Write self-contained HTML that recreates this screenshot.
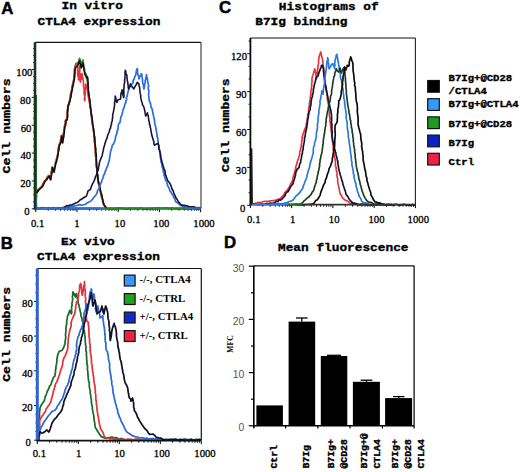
<!DOCTYPE html>
<html><head><meta charset="utf-8"><style>
html,body{margin:0;padding:0;background:#fff;}
body{width:520px;height:472px;overflow:hidden;font-family:"Liberation Sans",sans-serif;}
svg{display:block;}
</style></head><body>
<svg width="520" height="472" viewBox="0 0 520 472">
<rect x="0" y="0" width="520" height="472" fill="#fff"/>
<g id="A">
<text x="1.2" y="13.6" font-family="Liberation Sans" font-size="16.8" font-weight="bold" text-anchor="start" fill="#000" stroke="#000" stroke-width="0.5">A</text>
<text x="0" y="0" font-family="Liberation Mono" font-size="12.8" font-weight="bold" text-anchor="start" fill="#000" transform="translate(61.5 9.3) scale(1 0.88)" stroke="#000" stroke-width="0.4">In vitro</text>
<text x="0" y="0" font-family="Liberation Mono" font-size="12.8" font-weight="bold" text-anchor="start" fill="#000" transform="translate(37.5 24.6) scale(1 0.88)" stroke="#000" stroke-width="0.4">CTLA4 expression</text>
<line x1="35" y1="42.3" x2="201" y2="42.3" stroke="#111" stroke-width="1.2"/>
<line x1="201" y1="42.3" x2="201" y2="208.6" stroke="#333" stroke-width="1.1"/>
<line x1="31.8" y1="208.8" x2="35" y2="208.8" stroke="#111" stroke-width="1"/>
<line x1="33.2" y1="201.84" x2="35" y2="201.84" stroke="#111" stroke-width="1"/>
<line x1="33.2" y1="194.87" x2="35" y2="194.87" stroke="#111" stroke-width="1"/>
<line x1="33.2" y1="187.91" x2="35" y2="187.91" stroke="#111" stroke-width="1"/>
<line x1="31.8" y1="180.94" x2="35" y2="180.94" stroke="#111" stroke-width="1"/>
<line x1="33.2" y1="173.98" x2="35" y2="173.98" stroke="#111" stroke-width="1"/>
<line x1="33.2" y1="167.01" x2="35" y2="167.01" stroke="#111" stroke-width="1"/>
<line x1="33.2" y1="160.05" x2="35" y2="160.05" stroke="#111" stroke-width="1"/>
<line x1="31.8" y1="153.08" x2="35" y2="153.08" stroke="#111" stroke-width="1"/>
<line x1="33.2" y1="146.12" x2="35" y2="146.12" stroke="#111" stroke-width="1"/>
<line x1="33.2" y1="139.15" x2="35" y2="139.15" stroke="#111" stroke-width="1"/>
<line x1="33.2" y1="132.19" x2="35" y2="132.19" stroke="#111" stroke-width="1"/>
<line x1="31.8" y1="125.22" x2="35" y2="125.22" stroke="#111" stroke-width="1"/>
<line x1="33.2" y1="118.26" x2="35" y2="118.26" stroke="#111" stroke-width="1"/>
<line x1="33.2" y1="111.29" x2="35" y2="111.29" stroke="#111" stroke-width="1"/>
<line x1="33.2" y1="104.33" x2="35" y2="104.33" stroke="#111" stroke-width="1"/>
<line x1="31.8" y1="97.36" x2="35" y2="97.36" stroke="#111" stroke-width="1"/>
<line x1="33.2" y1="90.4" x2="35" y2="90.4" stroke="#111" stroke-width="1"/>
<line x1="33.2" y1="83.43" x2="35" y2="83.43" stroke="#111" stroke-width="1"/>
<line x1="33.2" y1="76.47" x2="35" y2="76.47" stroke="#111" stroke-width="1"/>
<line x1="31.8" y1="69.5" x2="35" y2="69.5" stroke="#111" stroke-width="1"/>
<line x1="33.2" y1="62.53" x2="35" y2="62.53" stroke="#111" stroke-width="1"/>
<line x1="33.2" y1="55.57" x2="35" y2="55.57" stroke="#111" stroke-width="1"/>
<line x1="33.2" y1="48.61" x2="35" y2="48.61" stroke="#111" stroke-width="1"/>
<text x="0" y="0" font-family="Liberation Serif" font-size="10.7" font-weight="normal" text-anchor="end" fill="#000" transform="translate(29.5 215.1) scale(1 1.04)" stroke="#000" stroke-width="0.3">0</text>
<text x="0" y="0" font-family="Liberation Serif" font-size="10.7" font-weight="normal" text-anchor="end" fill="#000" transform="translate(30.9 187.24) scale(1 1.04)" stroke="#000" stroke-width="0.3">20</text>
<text x="0" y="0" font-family="Liberation Serif" font-size="10.7" font-weight="normal" text-anchor="end" fill="#000" transform="translate(31.1 159.38) scale(1 1.04)" stroke="#000" stroke-width="0.3">40</text>
<text x="0" y="0" font-family="Liberation Serif" font-size="10.7" font-weight="normal" text-anchor="end" fill="#000" transform="translate(31.4 131.52) scale(1 1.04)" stroke="#000" stroke-width="0.3">60</text>
<text x="0" y="0" font-family="Liberation Serif" font-size="10.7" font-weight="normal" text-anchor="end" fill="#000" transform="translate(30.8 103.66) scale(1 1.04)" stroke="#000" stroke-width="0.3">80</text>
<text x="0" y="0" font-family="Liberation Serif" font-size="10.7" font-weight="normal" text-anchor="end" fill="#000" transform="translate(32.4 75.8) scale(1 1.04)" stroke="#000" stroke-width="0.3">100</text>
<line x1="35.8" y1="209.1" x2="35.8" y2="212.1" stroke="#000" stroke-width="1"/>
<line x1="48.2" y1="209.1" x2="48.2" y2="210.7" stroke="#000" stroke-width="1"/>
<line x1="55.46" y1="209.1" x2="55.46" y2="210.7" stroke="#000" stroke-width="1"/>
<line x1="60.6" y1="209.1" x2="60.6" y2="210.7" stroke="#000" stroke-width="1"/>
<line x1="64.6" y1="209.1" x2="64.6" y2="210.7" stroke="#000" stroke-width="1"/>
<line x1="67.86" y1="209.1" x2="67.86" y2="210.7" stroke="#000" stroke-width="1"/>
<line x1="70.62" y1="209.1" x2="70.62" y2="210.7" stroke="#000" stroke-width="1"/>
<line x1="73.01" y1="209.1" x2="73.01" y2="210.7" stroke="#000" stroke-width="1"/>
<line x1="75.11" y1="209.1" x2="75.11" y2="210.7" stroke="#000" stroke-width="1"/>
<line x1="77" y1="209.1" x2="77" y2="212.1" stroke="#000" stroke-width="1"/>
<line x1="89.4" y1="209.1" x2="89.4" y2="210.7" stroke="#000" stroke-width="1"/>
<line x1="96.66" y1="209.1" x2="96.66" y2="210.7" stroke="#000" stroke-width="1"/>
<line x1="101.8" y1="209.1" x2="101.8" y2="210.7" stroke="#000" stroke-width="1"/>
<line x1="105.8" y1="209.1" x2="105.8" y2="210.7" stroke="#000" stroke-width="1"/>
<line x1="109.06" y1="209.1" x2="109.06" y2="210.7" stroke="#000" stroke-width="1"/>
<line x1="111.82" y1="209.1" x2="111.82" y2="210.7" stroke="#000" stroke-width="1"/>
<line x1="114.21" y1="209.1" x2="114.21" y2="210.7" stroke="#000" stroke-width="1"/>
<line x1="116.31" y1="209.1" x2="116.31" y2="210.7" stroke="#000" stroke-width="1"/>
<line x1="118.2" y1="209.1" x2="118.2" y2="212.1" stroke="#000" stroke-width="1"/>
<line x1="130.6" y1="209.1" x2="130.6" y2="210.7" stroke="#000" stroke-width="1"/>
<line x1="137.86" y1="209.1" x2="137.86" y2="210.7" stroke="#000" stroke-width="1"/>
<line x1="143" y1="209.1" x2="143" y2="210.7" stroke="#000" stroke-width="1"/>
<line x1="147" y1="209.1" x2="147" y2="210.7" stroke="#000" stroke-width="1"/>
<line x1="150.26" y1="209.1" x2="150.26" y2="210.7" stroke="#000" stroke-width="1"/>
<line x1="153.02" y1="209.1" x2="153.02" y2="210.7" stroke="#000" stroke-width="1"/>
<line x1="155.41" y1="209.1" x2="155.41" y2="210.7" stroke="#000" stroke-width="1"/>
<line x1="157.51" y1="209.1" x2="157.51" y2="210.7" stroke="#000" stroke-width="1"/>
<line x1="159.4" y1="209.1" x2="159.4" y2="212.1" stroke="#000" stroke-width="1"/>
<line x1="171.8" y1="209.1" x2="171.8" y2="210.7" stroke="#000" stroke-width="1"/>
<line x1="179.06" y1="209.1" x2="179.06" y2="210.7" stroke="#000" stroke-width="1"/>
<line x1="184.2" y1="209.1" x2="184.2" y2="210.7" stroke="#000" stroke-width="1"/>
<line x1="188.2" y1="209.1" x2="188.2" y2="210.7" stroke="#000" stroke-width="1"/>
<line x1="191.46" y1="209.1" x2="191.46" y2="210.7" stroke="#000" stroke-width="1"/>
<line x1="194.22" y1="209.1" x2="194.22" y2="210.7" stroke="#000" stroke-width="1"/>
<line x1="196.61" y1="209.1" x2="196.61" y2="210.7" stroke="#000" stroke-width="1"/>
<line x1="198.71" y1="209.1" x2="198.71" y2="210.7" stroke="#000" stroke-width="1"/>
<line x1="200.6" y1="209.1" x2="200.6" y2="212.1" stroke="#000" stroke-width="1"/>
<text x="0" y="0" font-family="Liberation Serif" font-size="10.7" font-weight="normal" text-anchor="middle" fill="#000" transform="translate(37.6 226.6) scale(1 1.04)" stroke="#000" stroke-width="0.3">0.1</text>
<text x="0" y="0" font-family="Liberation Serif" font-size="10.7" font-weight="normal" text-anchor="middle" fill="#000" transform="translate(77 226.6) scale(1 1.04)" stroke="#000" stroke-width="0.3">1</text>
<text x="0" y="0" font-family="Liberation Serif" font-size="10.7" font-weight="normal" text-anchor="middle" fill="#000" transform="translate(119.9 226.6) scale(1 1.04)" stroke="#000" stroke-width="0.3">10</text>
<text x="0" y="0" font-family="Liberation Serif" font-size="10.7" font-weight="normal" text-anchor="middle" fill="#000" transform="translate(161.3 226.6) scale(1 1.04)" stroke="#000" stroke-width="0.3">100</text>
<text x="0" y="0" font-family="Liberation Serif" font-size="10.7" font-weight="normal" text-anchor="middle" fill="#000" transform="translate(204 226.6) scale(1 1.04)" stroke="#000" stroke-width="0.3">1000</text>
<text x="0" y="0" font-family="Liberation Mono" font-size="13.2" font-weight="bold" text-anchor="middle" fill="#000" transform="translate(10.4 125.9) rotate(-90) scale(1 0.78)" stroke="#000" stroke-width="0.4">Cell numbers</text>
<line x1="36.2" y1="209" x2="36.2" y2="95" stroke="#1f7a2a" stroke-width="1.6"/>
<path d="M36.2 209 L36.14 206.96 L36.39 205.24 L36.37 203.96 L36.13 202.51 L36.17 200.8 L36.24 198.76 L36.5 198.02 L36.6 196 L36.42 193.67 L36.7 192 L37.93 191.04 L39 189 L40.5 187.58 L41.9 186.4 L43.05 184.06 L43.85 182.55 L44.5 181 L46.5 179 L47.39 176.84 L48.7 175.6 L49.44 177.83 L50.4 179.3 L50.45 177.66 L50.97 175.66 L51.16 173.55 L51.11 171.98 L51.72 170.5 L51.75 168.95 L52.1 167.1 L52.64 168.39 L53.41 170.41 L53.8 171.7 L53.99 169.93 L54.5 168.43 L54.96 165.87 L55.45 163.8 L55.5 162.4 L56.02 161.01 L56.42 158.99 L57.2 157.3 L57.17 155.8 L57.84 153.99 L58.15 151.98 L58.29 150.61 L58.46 148.75 L58.86 147.63 L58.9 145.4 L59.73 143.6 L60.6 141.4 L60.6 139.71 L61.22 138.13 L61.4 135.6 L61.82 137.04 L61.78 139.2 L61.79 140.65 L62.3 142.4 L62.34 140.2 L62.52 139.24 L62.81 136.87 L63.21 135.87 L63.26 133.62 L63.79 132.4 L64 130.2 L64.47 128.94 L64.43 126.7 L64.77 125.56 L65.41 122.98 L65.22 121.38 L65.7 120 L66.9 119.4 L66.84 117.68 L67.15 115.72 L66.9 114.2 L67.22 112.68 L67.67 111.13 L67.51 109.34 L67.71 106.96 L67.7 105.8 L68.6 104.2 L69.26 102.84 L69.67 101.16 L69.81 98.98 L70.3 97.4 L70.38 95.86 L70.68 93.48 L71.09 91.89 L71.48 90.06 L71.9 88.9 L71.95 86.78 L72.36 85.34 L72.67 84.25 L73.3 82.1 L73.72 79.98 L74 78.7 L73.99 76.83 L74.2 74.88 L74.64 74.23 L74.55 71.94 L74.47 69.79 L74.76 68.3 L75 66.9 L75.7 64.3 L77.9 63.5 L78.66 61.39 L78.75 60.64 L79.6 58.4 L80.04 59.68 L80.48 61.23 L80.89 64.07 L81.3 65.2 L82.08 63.74 L82.29 61.64 L83 60.1 L83.04 62.11 L83.51 63.81 L83.63 64.82 L84.16 67.42 L84.43 68.9 L84.65 70.5 L84.7 71.9 L86 74 L86.44 75.52 L87.2 77 L87.23 78.13 L87.15 80.14 L87.4 82.33 L87.93 83.74 L88.03 86.09 L88.16 87.04 L88 88.9 L88.04 90.27 L88.24 91.95 L88.71 94.48 L89.05 95.68 L89.15 97.76 L89.03 99.29 L89.73 101.14 L89.7 102.5 L90.06 104.16 L89.93 106.22 L90.24 107.92 L90.83 109.13 L90.7 111.47 L91.11 112.23 L90.96 113.89 L91.4 116 L91.89 118.07 L91.67 119.79 L92.42 121.29 L92.28 122.86 L92.39 123.92 L93.14 126.38 L93.1 127.9 L93.34 130.2 L93.51 131.9 L93.97 132.88 L94 135 L94.02 136.42 L94.18 138.44 L94.36 139.9 L94.45 142.16 L94.75 143.28 L95 145 L95.18 147.21 L95.2 148.95 L95.38 150.21 L95.51 151.32 L95.59 153.24 L95.45 155.71 L95.68 157.04 L96 158.8 L96.25 160.47 L96.12 162.02 L96.38 163.94 L96.22 165.27 L96.42 166.53 L96.85 168.41 L96.8 170 L97.02 172.11 L97.41 173.53 L97.41 175.41 L97.53 177.43 L97.7 179 L98.04 180.75 L98.43 182.96 L98.93 184.59 L99.45 185.57 L99.59 188.1 L100.13 188.85 L100.3 191 L100.5 192.68 L100.89 194.19 L101.32 196.45 L102 198 L102.57 200.13 L102.59 201.56 L103.3 202.52 L103.6 204.6 L105.13 206.86 L106.2 208 L107.93 208.84 L110 208.6 L111.56 208.58 L113.54 209 L114.67 208.52 L116.51 208.41 L117.94 208.38 L119.88 208.02 L121.41 208.53 L122.71 208.4 L124.7 208.61 L125.99 209.18 L128.05 209.17 L129.26 208.32 L130.85 208.93 L132.61 208.16 L134.33 209.09 L136.19 208.31 L137.41 209.1 L139.29 208.84 L140.63 208.07 L142.61 208.51 L143.87 209.13 L145.83 208.96 L147.13 209.03 L148.74 209.04 L150.6 208.41 L152.28 209.11 L153.74 208.16 L155.52 208.29 L156.89 208.19 L158.48 208.24 L160.26 208.37 L162.16 208.35 L163.63 208.21 L165.16 208.02 L166.73 208.02 L168.64 208.66 L169.94 208.57 L172.01 208.13 L173.57 208.52 L175 209 L176.56 208.61 L178.36 209.18 L179.78 209 L181.62 208.76 L183.07 208.42 L184.48 208.16 L186.12 208.89 L187.85 208.2 L189.38 209.01 L191.47 208.8 L192.74 208.29 L194.38 208.55 L195.92 208.53 L197.61 209.15 L199.66 208.66 L201 208.6" fill="none" stroke="#238a2b" stroke-width="1.74" stroke-linejoin="round" />
<path d="M36.7 192 L37.7 191.06 L39 189 L40.34 187.53 L41.9 186.4 L42.47 184.46 L43.62 182.8 L44.5 181 L46.5 179 L47.42 177.31 L48.7 175.6 L49.25 177.17 L50.4 179.3 L50.4 177.44 L50.61 175.24 L51.01 173.75 L51.42 172.36 L51.76 170.77 L51.99 169.3 L52.1 167.1 L52.6 168.42 L53.52 169.75 L53.8 171.7 L54.27 170.01 L54.21 168.38 L55.06 166.27 L55.3 164.63 L55.5 162.4 L55.85 160.73 L56.64 159.4 L57.2 157.3 L57.63 155.99 L57.74 154.37 L58.04 152.43 L58.01 149.94 L58.19 148.63 L58.42 147.5 L58.9 145.4 L59.79 143.55 L60.6 141.4 L60.94 139.68 L61.13 136.94 L61.4 135.6 L61.8 137.6 L61.85 139.04 L62.17 140.18 L62.3 142.4 L62.68 140.36 L62.53 138.63 L63.17 136.82 L63.42 136 L63.51 133.54 L63.74 132.16 L64 130.2 L64.44 128.64 L64.65 126.29 L64.64 124.8 L65.28 123.17 L65.46 121.11 L65.7 120 L66.9 119.4 L66.74 117.42 L67.2 116.23 L67.31 114.05 L67.31 112.56 L67.38 110.44 L67.74 108.84 L67.89 108.02 L67.7 105.8 L68.6 104.2 L68.74 102.45 L69.64 101.36 L69.84 98.82 L70.3 97.4 L70.45 96.23 L70.77 94.1 L71.05 92.33 L71.85 90.16 L71.9 88.9 L72.44 87.21 L72.83 85.74 L72.79 84.28 L73.3 82.1 L73.64 79.83 L74 78.7 L73.83 77.02 L74.22 75.11 L74.16 73.49 L74.5 72 L74.63 70.81 L74.68 69.1 L75.42 66.74 L75.72 65.86 L75.7 64 L77 63 L77.39 64.45 L77.22 66.27 L77.75 68.21 L77.52 69.71 L77.62 70.96 L77.66 73.6 L77.92 75.42 L78.05 76.32 L78.36 77.93 L78.5 80 L78.55 78.8 L78.98 76.87 L78.95 75.25 L79.26 73.06 L79.26 70.71 L79.39 69.44 L79.53 67.92 L79.5 66 L79.46 67.07 L79.94 68.77 L79.75 70.64 L79.74 72.73 L80.24 73.76 L80.13 75.42 L80.16 77.14 L80.02 78.47 L80.13 80.98 L80.4 82.1 L80.74 80.06 L81.32 79.3 L81.39 76.57 L81.58 74.81 L82.1 73.6 L82.28 74.71 L82.49 76.51 L82.97 78.86 L83.2 80 L83.47 81.5 L83.38 83.23 L83.47 84.61 L83.4 86.13 L84.06 87.55 L83.89 89.76 L84.23 90.86 L83.99 92.5 L84.18 94.34 L84.63 96.42 L84.69 97.03 L84.3 99.45 L84.7 100.8 L85.02 99.09 L84.91 96.84 L84.87 96.27 L85.22 94.51 L85.38 92.1 L84.95 90.31 L85.27 89.26 L85.6 87.63 L85.51 86 L85.5 84 L87 86 L87.17 87.73 L87.12 89.67 L87.44 91.5 L87.89 92.43 L87.78 94.04 L88.2 96 L88.58 97.84 L88.57 98.68 L89.11 100.9 L89.33 102.07 L89.7 104 L90 105.13 L90.07 107.38 L90.7 109.32 L90.9 110.83 L90.76 112.27 L91.43 114.53 L91.4 116 L91.53 117.13 L91.88 119.61 L92.08 120.81 L92.47 123.31 L92.45 123.94 L92.76 126.1 L93.1 127.9 L93.43 129.31 L93.73 131.74 L93.78 132.87 L94 135 L94.45 136.44 L94.53 138.01 L94.33 140.31 L94.54 142.21 L94.83 142.96 L95 145 L94.96 146.63 L95.35 148.99 L95.16 150.05 L95.33 152.47 L95.41 153.09 L95.49 155.22 L96.11 157.54 L96 158.8 L96.25 161 L96.49 161.8 L96.15 164.12 L96.6 164.64 L96.67 166.65 L96.61 168.2 L96.8 170 L96.78 171.2 L97.03 173.42 L97.61 174.95 L97.8 176.85 L97.7 179 L97.99 181.1 L98.64 182.35 L98.54 184.11 L99.11 186.36 L99.37 187.41 L100.17 188.72 L100.3 191 L100.67 193.12 L101.31 193.95 L101.3 195.73 L102 198 L102.65 199.36 L102.95 201.78 L103.1 202.68 L103.6 204.6 L105.17 206.44 L106.2 208" fill="none" stroke="#e8323c" stroke-width="1.59" stroke-linejoin="round" />
<path d="M36.7 193 L37.23 191.72 L38 190 L37.1 192.5 L38.16 190.78 L39.4 189.5 L40.6 188.46 L42.3 186.9 L43.37 185.23 L44.25 182.82 L44.9 181.5 L46.9 179.5 L47.87 177.78 L49.1 176.1 L50.18 178.4 L50.8 179.8 L50.99 177.81 L51.25 176.31 L51.74 174.25 L51.92 173.07 L52.18 171.36 L52.31 169.17 L52.5 167.6 L52.98 169 L53.77 170.25 L54.2 172.2 L54.39 170.59 L54.75 168.04 L54.99 166.67 L55.47 165.24 L55.9 162.9 L56.66 161.69 L56.92 159.08 L57.6 157.8 L57.64 156.1 L58.19 154.35 L58.2 152.62 L58.63 151.17 L58.94 149.65 L59.14 147.22 L59.3 145.9 L60.32 143.69 L61 141.9 L61.3 139.84 L61.65 137.73 L61.8 136.1 L61.9 137.55 L62.08 139.88 L62.51 141.03 L62.7 142.9 L62.89 141.65 L63.19 139.15 L63.58 137.82 L63.92 135.53 L63.9 134.5 L64.33 132.86 L64.4 130.7 L64.45 128.79 L64.78 126.99 L65.49 125.68 L65.75 123.77 L66 122.15 L66.1 120.5 L67.3 119.9 L67.28 118.48 L67.72 116.11 L67.65 114.92 L67.56 112.97 L67.62 111.1 L67.78 109.8 L68.08 107.7 L68.1 106.3 L69 104.7 L69.18 102.83 L69.94 100.99 L70.18 99.3 L70.7 97.9 L71.17 96.25 L71.12 94.1 L71.61 92.85 L72.05 90.69 L72.3 89.4 L72.48 87.9 L72.95 85.78 L73.25 84.75 L73.7 82.6 L73.96 80.97 L74.4 79.2 L74.46 77.52 L74.84 76.5 L74.72 74.1 L75.03 72.5 L74.8 71.6 L75.13 69.92 L75.3 68 L77.5 66 L78.15 64.72 L78.88 62.33 L79.6 61 L79.78 62.8 L80.52 64.91 L80.67 66.37 L81.3 68 L81.8 66.34 L82.26 64.45 L83 63 L83.29 65.26 L83.37 66.66 L84 68.97 L83.98 69.96 L84.64 72.64 L84.7 74 L85.59 75.55 L86.5 78 L87.5 77 L87.83 78.59 L87.93 80.52 L88.01 81.76 L88.1 83.52 L88.02 85.85 L88.35 86.88 L88.3 88.9 L88.37 90.5 L88.73 92.18 L88.75 93.75 L89.26 96.1 L89.13 97.46 L89.7 98.64 L89.96 100.42 L90 102.5 L90.26 104.24 L90.49 105.68 L90.6 107.65 L90.81 109.41 L91.04 110.88 L91.04 112.74 L91.48 114.05 L91.7 116 L92.07 117.98 L92.16 119.08 L92.42 120.71 L92.49 122.73 L92.71 124.44 L93.16 125.74 L93.4 127.9 L93.69 129.26 L93.97 131.73 L94.08 132.78 L94.3 135 L94.47 136.54 L94.86 137.97 L94.98 140.5 L95.08 141.98 L94.98 143.82 L95.3 145 L95.42 147.18 L95.76 148.12 L95.82 150.61 L95.58 151.75 L96.05 153.28 L96.25 155.12 L96.33 156.72 L96.3 158.8 L96.42 160.82 L96.38 161.76 L96.65 163.42 L96.53 164.88 L96.7 167.24 L97.08 168.8 L97.1 170 L97.11 172.08 L97.27 173.63 L97.71 175.26 L98.01 177.26 L98 179 L98.41 181.1 L98.55 182.92 L99.18 184.04 L99.63 185.62 L100.1 187.65 L100.16 189.55 L100.6 191 L101 192.43 L101.57 194.05 L102.03 196 L102.3 198 L102.77 200.13 L103.14 201.46 L103.41 202.45 L103.9 204.6 L104.97 205.95 L106.5 208" fill="none" stroke="#111" stroke-width="1.59" stroke-linejoin="round" />
<path d="M36 208.3 L37.68 208.19 L39.21 208.81 L40.54 207.86 L42.51 207.55 L43.65 208 L45.32 207.98 L47.01 208.28 L48.86 207.73 L50.49 208.08 L51.74 208.71 L53.42 207.59 L54.92 208.25 L57.06 208.44 L58.33 207.69 L60 208 L61.4 207.94 L63.52 207.27 L65.32 207.14 L67.27 207.29 L68.52 207.26 L70.12 206.48 L72.11 205.81 L73.61 206.31 L75.32 205.73 L77.4 205.4 L79.61 204.67 L80.99 205.1 L83.1 204.92 L85 204.5 L86.99 203.04 L88.4 202.22 L90.3 201.5 L91.08 200.73 L92.7 199.17 L93.25 198.03 L94.87 196.18 L95.97 194.85 L96.9 193.6 L97.28 191.53 L97.86 189.93 L98.5 189.41 L99.32 188.03 L99.91 185.7 L100.37 184.42 L100.9 183 L101.67 181.52 L101.88 180.17 L102.94 178.06 L103.45 176.26 L103.59 175.06 L104.5 174.54 L104.9 172.4 L105.63 170.64 L106.28 169.13 L106.39 168.43 L107.22 166.61 L107.8 165.5 L108.22 163.79 L108.8 161.8 L109.28 160.65 L109.43 158.81 L109.86 156.58 L109.95 155.37 L110.19 154.13 L110.58 151.24 L110.89 150.85 L111.5 148.6 L112.06 146.57 L112.5 144.89 L113.5 144 L114.3 142.19 L114.97 140.33 L115.5 138 L115.63 136.36 L116.27 134.91 L117.02 133.25 L116.93 131.45 L117.96 129.79 L118.1 127.4 L118.32 125.33 L118.83 123.42 L119.84 122.85 L120.19 121.21 L120.69 118.79 L120.82 116.86 L121.78 115.35 L122.1 114.1 L122.61 111.96 L123.03 109.69 L124 108 L124.35 106.53 L124.91 104.2 L125.82 102.68 L126 100.9 L126.63 99.37 L126.44 97.38 L127.11 96.18 L127.44 94.39 L127.96 92 L128.57 90.13 L128.7 89 L130.06 86.84 L130.62 85.18 L132.1 83.9 L132.96 82.87 L133.11 80.49 L134.13 79.22 L134.6 77.09 L135.5 75.4 L135.82 74.16 L136.18 72.62 L136.62 69.9 L137.2 68.6 L137.62 70.3 L137.49 72.19 L137.76 74.1 L138.47 75.8 L138.71 76.9 L138.9 78.8 L139.66 76.95 L140.84 74.82 L141.4 73.7 L141.96 74.74 L141.77 76.77 L142.55 78.8 L142.47 81.04 L142.66 82.15 L143.16 84.26 L143.6 85.8 L143.61 87.06 L144 89 L144.04 87.88 L144.67 86.14 L144.6 84.11 L145.3 82.71 L145.13 80.95 L145.94 79.03 L145.73 77.52 L146.36 76.68 L146.5 74.6 L146.6 75.98 L147 78.08 L147.54 79.71 L147.74 81.6 L148.2 83.9 L148.63 85.92 L148.12 87.95 L148.22 88.84 L148.94 91.11 L148.86 92.31 L148.59 94.29 L148.62 95.39 L148.92 96.85 L149.1 99.2 L149.52 101.29 L150.21 102.57 L150.65 104.21 L150.79 106.09 L151.46 107.97 L152.3 109.22 L152.5 111 L152.88 113.05 L153.1 114.02 L153.65 116.63 L154.01 118.08 L154.4 119.75 L154.58 121.14 L154.68 123.08 L154.86 124.49 L155.67 126.6 L155.8 128 L156.19 129.35 L156.35 131.34 L156.79 132.97 L157.12 135.4 L157.08 136.72 L157.79 138.04 L157.89 140.56 L158.2 141.6 L158.13 143.33 L158.47 145.34 L159.27 146.65 L158.94 148.4 L159.5 150.27 L159.74 151.83 L160.21 153.34 L160.17 155.61 L160.29 156.91 L160.67 158.7 L161 160 L161.1 162.34 L161.62 162.7 L161.92 164.84 L162.1 166.53 L162.74 168.58 L163.06 169.63 L163.33 171.96 L164.19 173.32 L164.04 175.36 L164.6 176.6 L165.15 177.84 L165.58 180.28 L166.68 181.72 L167.07 183.26 L167.52 185.47 L168.23 186.66 L169.18 188.55 L169.56 189.47 L170.2 191.4 L171.15 192.45 L172.26 194.34 L173.19 195.79 L173.77 197.34 L174.72 198.82 L175.34 201.14 L176.6 202.4 L177.82 202.97 L179.21 204.22 L180.67 205.37 L182.1 206.1 L183.82 206.14 L185.63 207.07 L186.63 207.27 L188.83 207.45 L189.91 207.75 L191.87 206.85 L193.05 208.39 L195 208 L197.11 207.65 L198.72 207.5 L201 208" fill="none" stroke="#2f6fd6" stroke-width="1.74" stroke-linejoin="round" />
<line x1="36.4" y1="209" x2="36.4" y2="200" stroke="#2f6fd6" stroke-width="1.4"/>
<line x1="36" y1="208.6" x2="100" y2="208.6" stroke="#2f6fd6" stroke-width="1.6"/>
<path d="M63.8 207 L65.19 206.83 L66.81 205.58 L68.69 205.85 L70 205 L71.7 204.77 L73.87 203.94 L75.7 202.9 L77.23 202.41 L78.74 201.37 L80 200 L81.82 198.98 L84 197.5 L86.3 196.2 L86.89 194.76 L87.4 193.19 L88 191 L90.3 189.6 L91 187.77 L91.47 186.07 L92.3 184.42 L92.95 182.97 L93.63 181.85 L94.3 180.3 L94.88 179.22 L95.12 177.68 L95.95 175.83 L96.63 174.65 L97.01 172.63 L97.92 170.7 L98.2 169.7 L98.56 168.28 L98.48 166.67 L99.15 165.48 L99.22 163.96 L99.6 161.8 L100.26 160.13 L101.14 157.94 L101.68 157 L102.2 155.2 L102.49 153.93 L102.89 151.77 L103.37 150.42 L103.57 148.32 L104.08 146.76 L104.71 144.75 L104.9 143.3 L105.65 141.67 L106.02 140 L106.58 139.33 L107.22 137.59 L107.58 135.51 L108.12 134.32 L108.8 132.7 L109.42 131.44 L109.6 129.77 L110.65 127.95 L110.69 126.06 L111.5 124.7 L111.42 122.56 L112.19 121.3 L112.24 119.75 L112.61 117.77 L112.65 116.02 L112.8 114.1 L113.38 112.18 L113.84 109.69 L114.2 108 L114.44 106.24 L114.64 104.09 L114.44 102.3 L114.94 101.64 L115.01 99.27 L115.25 98.06 L115.2 96 L115.66 97.33 L115.93 99.16 L116.37 100.79 L116.9 102.5 L118.1 99.6 L120.3 99.2 L120.73 97.84 L120.71 95.52 L121.04 93.1 L121.85 91.77 L122 89.8 L122.65 91.66 L122.51 93.51 L123.26 96.1 L123.6 97.5 L123.99 95.87 L123.75 93.82 L123.99 92.35 L123.79 90.52 L123.8 89.72 L123.97 88.46 L124.05 86.74 L124.18 84.12 L124.63 82.79 L124.74 81.12 L124.43 80.23 L124.93 78.73 L125.04 76.2 L125.08 75.35 L125.08 74.02 L125.05 72.46 L125.3 70.3 L125.86 71.39 L125.86 73.83 L126.77 74.82 L127 77 L127.13 78.99 L127.29 80.86 L127.72 81.61 L127.89 83.95 L128.18 85.78 L128.24 87.64 L128.7 89 L129.18 87.47 L129.91 85.5 L130.4 83.9 L131.46 85.94 L132.93 87.64 L133.8 89 L134.69 87.05 L135.24 86.17 L136.47 84.29 L137.2 82.2 L138.9 83.9 L139.05 85.72 L139.69 87.68 L139.71 88.74 L139.86 91.13 L140.08 92.57 L140.46 94.52 L140.83 95.47 L140.6 97.14 L141.1 99.21 L141.4 100.8 L142.24 102.96 L142.43 104.6 L143.54 106.34 L144 107.6 L144.38 109.01 L144.89 111.33 L145.13 113.14 L145.27 113.82 L145.7 116 L146.58 114.71 L147.4 112.7 L147.53 114.57 L148.28 115.53 L148.39 117.63 L148.62 118.64 L148.8 120.86 L149.43 122.09 L149.32 124.08 L150.04 124.96 L150.23 127.33 L150.72 128.45 L150.8 130 L151.2 131.81 L151.44 133.03 L151.84 135.34 L152.36 136.88 L152.8 138.52 L153.06 139.65 L153.98 141.75 L153.85 143.76 L154.5 145.3 L156.52 143.94 L158.2 143.4 L158.57 144.86 L158.83 146.11 L158.85 148.92 L159.66 149.96 L159.8 151.34 L160.23 153.18 L160.65 155.23 L160.88 157.11 L161 158.2 L161.39 159.49 L161.9 161.5 L162.37 163.18 L163.19 166 L163.7 167.4 L164.14 169.55 L164.87 170.1 L165.15 172.11 L165.32 174.4 L165.87 175.54 L166.56 177.62 L167.04 178.56 L167.4 180.3 L168.77 181.74 L170.2 184 L171.08 186.12 L171.23 186.51 L171.85 188.42 L172.84 190.62 L173.4 191.12 L173.8 193.2 L174.91 195.28 L175.75 197.45 L176.6 198.7 L177.26 199.67 L178.6 202.03 L179.48 202.66 L180.3 204.3 L182.19 205.15 L183.74 205.17 L185.67 205.47 L187.65 206.06 L189.5 207 L191.09 206.74 L193.11 206.75 L194.88 207.13 L196.22 208.18 L198.08 208.35 L200 208" fill="none" stroke="#14143a" stroke-width="1.59" stroke-linejoin="round" />
<line x1="35" y1="42.3" x2="35" y2="209.6" stroke="#1d3320" stroke-width="2.6"/>
<line x1="34" y1="208.6" x2="201" y2="208.6" stroke="#2a2a2a" stroke-width="2.0"/>
<line x1="36.5" y1="208.4" x2="104" y2="208.4" stroke="#2f6fd6" stroke-width="1.7"/>
<line x1="104" y1="208.4" x2="200.5" y2="208.4" stroke="#238a2b" stroke-width="1.7"/>
<line x1="185" y1="208.2" x2="200.5" y2="208.2" stroke="#2f6fd6" stroke-width="1.2"/>
</g>
<g id="B">
<text x="0.8" y="248.8" font-family="Liberation Sans" font-size="16.8" font-weight="bold" text-anchor="start" fill="#000" stroke="#000" stroke-width="0.5">B</text>
<text x="0" y="0" font-family="Liberation Mono" font-size="12.8" font-weight="bold" text-anchor="start" fill="#000" transform="translate(61 244.6) scale(1 0.88)" stroke="#000" stroke-width="0.4">Ex vivo</text>
<text x="0" y="0" font-family="Liberation Mono" font-size="12.8" font-weight="bold" text-anchor="start" fill="#000" transform="translate(37 259.8) scale(1 0.88)" stroke="#000" stroke-width="0.4">CTLA4 expression</text>
<line x1="37.3" y1="268.5" x2="201.3" y2="268.5" stroke="#111" stroke-width="1.2"/>
<line x1="201.3" y1="268.5" x2="201.3" y2="440.6" stroke="#111" stroke-width="1.2"/>
<line x1="34.1" y1="440.2" x2="37.3" y2="440.2" stroke="#111" stroke-width="1"/>
<line x1="35.5" y1="431.52" x2="37.3" y2="431.52" stroke="#111" stroke-width="1"/>
<line x1="35.5" y1="422.85" x2="37.3" y2="422.85" stroke="#111" stroke-width="1"/>
<line x1="35.5" y1="414.18" x2="37.3" y2="414.18" stroke="#111" stroke-width="1"/>
<line x1="34.1" y1="405.5" x2="37.3" y2="405.5" stroke="#111" stroke-width="1"/>
<line x1="35.5" y1="396.82" x2="37.3" y2="396.82" stroke="#111" stroke-width="1"/>
<line x1="35.5" y1="388.15" x2="37.3" y2="388.15" stroke="#111" stroke-width="1"/>
<line x1="35.5" y1="379.47" x2="37.3" y2="379.47" stroke="#111" stroke-width="1"/>
<line x1="34.1" y1="370.8" x2="37.3" y2="370.8" stroke="#111" stroke-width="1"/>
<line x1="35.5" y1="362.12" x2="37.3" y2="362.12" stroke="#111" stroke-width="1"/>
<line x1="35.5" y1="353.45" x2="37.3" y2="353.45" stroke="#111" stroke-width="1"/>
<line x1="35.5" y1="344.77" x2="37.3" y2="344.77" stroke="#111" stroke-width="1"/>
<line x1="34.1" y1="336.1" x2="37.3" y2="336.1" stroke="#111" stroke-width="1"/>
<line x1="35.5" y1="327.42" x2="37.3" y2="327.42" stroke="#111" stroke-width="1"/>
<line x1="35.5" y1="318.75" x2="37.3" y2="318.75" stroke="#111" stroke-width="1"/>
<line x1="35.5" y1="310.07" x2="37.3" y2="310.07" stroke="#111" stroke-width="1"/>
<line x1="34.1" y1="301.4" x2="37.3" y2="301.4" stroke="#111" stroke-width="1"/>
<line x1="35.5" y1="292.73" x2="37.3" y2="292.73" stroke="#111" stroke-width="1"/>
<line x1="35.5" y1="284.05" x2="37.3" y2="284.05" stroke="#111" stroke-width="1"/>
<line x1="35.5" y1="275.38" x2="37.3" y2="275.38" stroke="#111" stroke-width="1"/>
<text x="0" y="0" font-family="Liberation Serif" font-size="10.7" font-weight="normal" text-anchor="end" fill="#000" transform="translate(30.8 446) scale(1 1.04)" stroke="#000" stroke-width="0.3">0</text>
<text x="0" y="0" font-family="Liberation Serif" font-size="10.7" font-weight="normal" text-anchor="end" fill="#000" transform="translate(32.6 411.3) scale(1 1.04)" stroke="#000" stroke-width="0.3">20</text>
<text x="0" y="0" font-family="Liberation Serif" font-size="10.7" font-weight="normal" text-anchor="end" fill="#000" transform="translate(32.6 376.6) scale(1 1.04)" stroke="#000" stroke-width="0.3">40</text>
<text x="0" y="0" font-family="Liberation Serif" font-size="10.7" font-weight="normal" text-anchor="end" fill="#000" transform="translate(32.8 341.9) scale(1 1.04)" stroke="#000" stroke-width="0.3">60</text>
<text x="0" y="0" font-family="Liberation Serif" font-size="10.7" font-weight="normal" text-anchor="end" fill="#000" transform="translate(32.8 307.2) scale(1 1.04)" stroke="#000" stroke-width="0.3">80</text>
<line x1="37.3" y1="441.1" x2="37.3" y2="444.1" stroke="#000" stroke-width="1"/>
<line x1="49.64" y1="441.1" x2="49.64" y2="442.7" stroke="#000" stroke-width="1"/>
<line x1="56.86" y1="441.1" x2="56.86" y2="442.7" stroke="#000" stroke-width="1"/>
<line x1="61.98" y1="441.1" x2="61.98" y2="442.7" stroke="#000" stroke-width="1"/>
<line x1="65.96" y1="441.1" x2="65.96" y2="442.7" stroke="#000" stroke-width="1"/>
<line x1="69.2" y1="441.1" x2="69.2" y2="442.7" stroke="#000" stroke-width="1"/>
<line x1="71.95" y1="441.1" x2="71.95" y2="442.7" stroke="#000" stroke-width="1"/>
<line x1="74.33" y1="441.1" x2="74.33" y2="442.7" stroke="#000" stroke-width="1"/>
<line x1="76.42" y1="441.1" x2="76.42" y2="442.7" stroke="#000" stroke-width="1"/>
<line x1="78.3" y1="441.1" x2="78.3" y2="444.1" stroke="#000" stroke-width="1"/>
<line x1="90.64" y1="441.1" x2="90.64" y2="442.7" stroke="#000" stroke-width="1"/>
<line x1="97.86" y1="441.1" x2="97.86" y2="442.7" stroke="#000" stroke-width="1"/>
<line x1="102.98" y1="441.1" x2="102.98" y2="442.7" stroke="#000" stroke-width="1"/>
<line x1="106.96" y1="441.1" x2="106.96" y2="442.7" stroke="#000" stroke-width="1"/>
<line x1="110.2" y1="441.1" x2="110.2" y2="442.7" stroke="#000" stroke-width="1"/>
<line x1="112.95" y1="441.1" x2="112.95" y2="442.7" stroke="#000" stroke-width="1"/>
<line x1="115.33" y1="441.1" x2="115.33" y2="442.7" stroke="#000" stroke-width="1"/>
<line x1="117.42" y1="441.1" x2="117.42" y2="442.7" stroke="#000" stroke-width="1"/>
<line x1="119.3" y1="441.1" x2="119.3" y2="444.1" stroke="#000" stroke-width="1"/>
<line x1="131.64" y1="441.1" x2="131.64" y2="442.7" stroke="#000" stroke-width="1"/>
<line x1="138.86" y1="441.1" x2="138.86" y2="442.7" stroke="#000" stroke-width="1"/>
<line x1="143.98" y1="441.1" x2="143.98" y2="442.7" stroke="#000" stroke-width="1"/>
<line x1="147.96" y1="441.1" x2="147.96" y2="442.7" stroke="#000" stroke-width="1"/>
<line x1="151.2" y1="441.1" x2="151.2" y2="442.7" stroke="#000" stroke-width="1"/>
<line x1="153.95" y1="441.1" x2="153.95" y2="442.7" stroke="#000" stroke-width="1"/>
<line x1="156.33" y1="441.1" x2="156.33" y2="442.7" stroke="#000" stroke-width="1"/>
<line x1="158.42" y1="441.1" x2="158.42" y2="442.7" stroke="#000" stroke-width="1"/>
<line x1="160.3" y1="441.1" x2="160.3" y2="444.1" stroke="#000" stroke-width="1"/>
<line x1="172.64" y1="441.1" x2="172.64" y2="442.7" stroke="#000" stroke-width="1"/>
<line x1="179.86" y1="441.1" x2="179.86" y2="442.7" stroke="#000" stroke-width="1"/>
<line x1="184.98" y1="441.1" x2="184.98" y2="442.7" stroke="#000" stroke-width="1"/>
<line x1="188.96" y1="441.1" x2="188.96" y2="442.7" stroke="#000" stroke-width="1"/>
<line x1="192.2" y1="441.1" x2="192.2" y2="442.7" stroke="#000" stroke-width="1"/>
<line x1="194.95" y1="441.1" x2="194.95" y2="442.7" stroke="#000" stroke-width="1"/>
<line x1="197.33" y1="441.1" x2="197.33" y2="442.7" stroke="#000" stroke-width="1"/>
<line x1="199.42" y1="441.1" x2="199.42" y2="442.7" stroke="#000" stroke-width="1"/>
<line x1="201.3" y1="441.1" x2="201.3" y2="444.1" stroke="#000" stroke-width="1"/>
<text x="0" y="0" font-family="Liberation Serif" font-size="10.7" font-weight="normal" text-anchor="middle" fill="#000" transform="translate(39.4 456.8) scale(1 1.04)" stroke="#000" stroke-width="0.3">0.1</text>
<text x="0" y="0" font-family="Liberation Serif" font-size="10.7" font-weight="normal" text-anchor="middle" fill="#000" transform="translate(78.7 456.8) scale(1 1.04)" stroke="#000" stroke-width="0.3">1</text>
<text x="0" y="0" font-family="Liberation Serif" font-size="10.7" font-weight="normal" text-anchor="middle" fill="#000" transform="translate(119.5 456.8) scale(1 1.04)" stroke="#000" stroke-width="0.3">10</text>
<text x="0" y="0" font-family="Liberation Serif" font-size="10.7" font-weight="normal" text-anchor="middle" fill="#000" transform="translate(161.8 456.8) scale(1 1.04)" stroke="#000" stroke-width="0.3">100</text>
<text x="0" y="0" font-family="Liberation Serif" font-size="10.7" font-weight="normal" text-anchor="middle" fill="#000" transform="translate(205 456.8) scale(1 1.04)" stroke="#000" stroke-width="0.3">1000</text>
<text x="0" y="0" font-family="Liberation Mono" font-size="13.2" font-weight="bold" text-anchor="middle" fill="#000" transform="translate(9.8 334.3) rotate(-90) scale(1 0.78)" stroke="#000" stroke-width="0.4">Cell numbers</text>
<path d="M38.5 440 L38.79 438.8 L38.43 436.61 L38.48 435.53 L39 433.5 L38.84 431.49 L39.14 429.99 L39.09 427.93 L38.92 426.16 L39.29 425.1 L39.02 423.81 L39.17 421.6 L39.18 419.77 L39.66 418.18 L39.33 416.7 L39.5 415.54 L39.45 413.96 L39.49 412.2 L39.93 409.72 L39.9 408.4 L40.59 406.68 L41.15 405.11 L42 404 L42.85 402.82 L44.17 400.98 L44.8 398.7 L45.11 396.77 L46.14 394.82 L46.59 393.43 L47 392 L48.19 389.67 L48.98 388.31 L49.48 386.15 L50.6 385 L51.4 383.49 L51.61 381.84 L52.65 380.04 L53.04 378.41 L53.6 377.3 L55 375.9 L55.02 374.41 L55.56 371.9 L55.4 369.95 L55.93 368.63 L55.95 366.46 L56.3 365 L56.61 363.37 L56.97 361.34 L56.84 358.84 L57.4 357.37 L57.5 355.6 L58.48 352.97 L59.2 351.4 L61.8 350.5 L63.5 348 L64.25 345.8 L64.84 344.44 L65.2 342 L65.31 339.73 L65.67 338.6 L65.77 336.66 L65.47 335.66 L65.69 333.17 L65.81 332 L66 330.2 L65.85 328.52 L66.27 326.82 L66.22 325.36 L66.79 323.84 L66.64 321.95 L66.9 320 L67.2 318.63 L67.37 317.11 L68 315 L68.84 313.49 L69.14 312.04 L69.7 310.5 L70.57 311.62 L71.4 313.9 L71.8 311.88 L71.46 310.04 L71.62 309.2 L71.61 306.65 L72.13 305.07 L71.85 303.87 L72.31 302.08 L72.51 299.88 L72.73 298.93 L72.36 296.52 L72.75 295.29 L72.74 293.14 L73 291.9 L73.81 293.16 L74.79 295.73 L75.6 297 L75.79 295.39 L76.4 293.6 L76.89 294.88 L77.28 297.49 L77.35 298.54 L77.96 300.35 L78.1 302 L78.46 304.23 L79.12 305.21 L79.22 306.9 L79.8 308.8 L80.1 311.08 L80.66 312.7 L81.01 314.32 L80.89 315.62 L81.5 317.3 L82.2 319.52 L82.2 320.61 L82.85 322.24 L83.2 324.1 L83.43 325.18 L83.59 327.31 L83.56 328.47 L84.34 330.83 L84.53 332.26 L84.67 334.16 L84.7 335.3 L85.09 336.43 L85.09 338.4 L85.27 340.1 L85.34 342.57 L85.55 343.46 L85.64 345.37 L86.05 346.88 L85.82 349 L85.86 350.63 L86.52 352.23 L86.4 353.9 L86.39 355.55 L86.68 356.86 L86.57 358.53 L86.8 360.56 L86.93 362.05 L86.94 364.11 L87.52 365.88 L87.49 367.62 L87.4 369.38 L87.68 370.88 L87.91 372.48 L87.86 373.9 L88.1 375.9 L88.16 377.61 L88.48 379.4 L88.49 380.82 L89.23 382.39 L89.27 384.39 L89.33 386.69 L89.57 388.13 L89.71 388.98 L90.37 391.13 L90.11 392.77 L90.6 394.6 L90.78 396.59 L90.79 397.69 L91.51 400.02 L91.24 401.25 L91.57 403.37 L91.94 405.29 L92.27 406.6 L92.43 408.58 L92.5 410 L92.92 411.6 L93.2 413.5 L93.54 414.43 L93.78 415.91 L93.98 418.24 L94.08 420.32 L94.39 421.29 L94.78 423.47 L94.94 424.5 L95.11 426.22 L95.4 427.9 L96.52 429.12 L97.3 430.9 L98.28 432.09 L99.51 434.19 L100.32 435.17 L101.3 436.7 L102.68 437.06 L104.22 437.99 L106 438.5 L108.05 437.51 L110.25 437.29 L112 437 L114.21 437.91 L116.28 437.65 L118 438.5 L119.56 439.21 L120.91 438.4 L122.84 439.16 L124.65 439.71 L126 439.6 L127.65 440.21 L129.27 439.64 L131 439.49 L132.44 439.75 L134.06 440.18 L135.89 439.68 L137.17 439.51 L138.98 439.74 L140.72 440.13 L142.58 439.67 L143.9 439.85 L145.86 439.52 L147.21 440.09 L148.63 439.5 L150.74 440.12 L152.09 439.27 L153.95 439.98 L155.54 440.34 L157.21 439.67 L158.4 439.52 L160.25 439.79 L161.68 439.41 L163.58 439.92 L165.04 440.4 L166.84 439.27 L168.34 440.17 L169.91 440.06 L171.35 439.61 L173.49 439.96 L175.01 439.5 L176.54 439.93 L178.03 440.05 L179.82 440.48 L181.48 439.79 L182.84 439.49 L184.85 439.44 L186.09 439.53 L187.97 440.32 L189.65 440.31 L190.95 439.36 L193.01 439.74 L194.61 439.79 L195.91 439.69 L197.5 440.47 L199.42 439.81 L201 440" fill="none" stroke="#1c6b2a" stroke-width="1.74" stroke-linejoin="round" />
<path d="M38.5 440 L38.59 438.2 L38.47 437.15 L38.9 435.58 L38.93 433.51 L38.93 431.16 L39.46 430.48 L39.21 428.87 L39.62 426.5 L39.61 425.63 L39.66 423.96 L39.63 421.63 L39.9 420.1 L41.08 417.72 L42 416 L43.29 414.6 L44.8 412.3 L45.52 411.22 L46.11 409.04 L47 408 L47.82 406.27 L49.08 405.05 L49.74 403.49 L50.6 402.6 L51.1 400.74 L51.5 398.64 L51.81 397.83 L52.43 395.41 L53 394 L53.21 392.16 L53.64 390.28 L54.3 389.07 L54.39 387.93 L55 386.1 L55.44 384.12 L56.56 382.25 L57.01 381.4 L57.9 378.89 L58.4 377.6 L58.88 376.18 L59.46 374.78 L59.92 373.09 L60.67 370.54 L61.2 368.74 L61.8 367.5 L62.26 365.51 L62.72 364.21 L62.74 362.1 L63.22 360.36 L63.5 359 L64.56 356.85 L65.17 355.65 L66 353.9 L66.43 352.53 L67.06 350.69 L67.7 348.8 L67.87 346.89 L67.89 344.93 L67.89 344.16 L68.11 342.25 L68.11 340.45 L68.39 338.69 L68.6 337 L68.82 334.78 L69.17 333.27 L69.4 332.16 L69.83 330.08 L70.3 328.5 L70.87 327.13 L71.17 325.53 L71.04 323.13 L71.3 321.92 L71.9 320 L73 317.3 L73.95 315.42 L74.7 313.9 L74.89 312.39 L75.31 310.2 L75.64 308.62 L75.75 306.72 L75.68 305.9 L76.3 303.96 L76.4 302 L78.1 300.3 L78.01 298.06 L78.27 296.56 L78.55 295.09 L78.58 293.32 L79.13 291.47 L79.44 290.25 L79.55 288.18 L79.57 287.01 L79.8 285.1 L80.7 283.4 L80.85 284.5 L81.39 287.13 L81.3 287.95 L81.88 290.33 L81.64 291.59 L81.92 293.95 L82.4 295.3 L82.48 294.1 L83.05 291.4 L83.27 290.07 L83.55 288.89 L83.52 286.31 L84.17 285.01 L84.41 283.63 L84.4 281.7 L84.65 283.8 L84.7 285.04 L84.47 287.04 L84.8 288.51 L85.21 289.75 L85.22 291.35 L85.3 293.97 L85.15 295.36 L85.4 297 L85.77 298.86 L85.6 300.09 L85.39 301.91 L85.69 303.41 L85.71 305.03 L86.04 307.36 L85.84 308.54 L86.09 310.48 L86.43 312.06 L86.14 314.39 L86.13 315.7 L86.33 317.69 L86.54 319.32 L86.6 320.7 L88.3 322.4 L88.25 324.55 L88.66 326.25 L88.91 328.65 L88.9 330.2 L88.79 331.64 L89.06 333.23 L89 335.02 L89.2 337.21 L89.48 338.2 L89.52 340.32 L89.67 341.65 L89.61 343.16 L90.29 345.74 L89.86 347.39 L90.52 348.9 L90.12 350.5 L90.44 351.83 L90.6 353.9 L90.83 355 L91.27 357.46 L91.3 359.5 L91.52 360.37 L91.49 361.92 L91.57 364.38 L92.26 365.5 L92.08 367.6 L92.68 369.64 L92.48 371.16 L93.09 372.8 L93.1 374.2 L93.23 375.52 L93.77 377.38 L93.73 379.36 L93.97 381.4 L94.13 382.15 L94.57 384.55 L94.95 386.35 L95 387.8 L95.38 390 L95.28 391.14 L95.21 392.57 L95.61 393.98 L95.81 395.75 L95.81 398.38 L95.73 398.94 L96.08 400.79 L96.39 402.23 L96.4 404.5 L96.83 406.57 L97.03 407.7 L96.96 409.62 L97.32 410.98 L97.45 412.64 L97.87 414.75 L98 416 L98.57 417.3 L98.53 419.33 L99.02 420.92 L99.13 422.3 L99.54 424.45 L100.25 426.69 L100.3 427.9 L101.34 430.1 L102.21 431.31 L102.94 432.27 L103.67 434.56 L104.26 436.15 L105.2 437.7 L107.11 437.98 L108.56 438.06 L110.01 439.06 L111.45 438.53 L113.47 439.14 L115 439.5 L116.37 439.7 L118.17 439.62 L119.82 439.56 L121.53 439.41 L122.88 439.16 L124.97 439.61 L126.13 440 L127.83 439.09 L129.62 439.29 L131.22 439.66 L132.68 439.69 L134.24 439.63 L136.15 439.12 L137.66 439.12 L139.3 440.08 L140.99 439.91 L142.74 439.2 L144.5 439.94 L145.59 440.08 L147.39 439.29 L149.35 439.77 L150.86 439.27 L152.49 439.19 L153.79 439.57 L155.28 439.85 L157.02 439.51 L158.94 439.67 L160.67 439.91 L162.28 439.85 L163.93 440.23 L165.1 440.09 L166.83 440.12 L168.66 440.2 L169.94 439.67 L171.93 440.37 L173.55 439.29 L175.1 439.37 L176.69 440.22 L178.05 440.38 L180.01 439.58 L181.34 439.82 L183.35 439.99 L184.54 439.33 L186.16 440.28 L187.83 439.99 L189.52 440.16 L191.19 439.52 L193.11 440 L194.62 440.33 L196.4 439.39 L197.66 439.56 L199.38 440.44 L201 440" fill="none" stroke="#e4333f" stroke-width="1.74" stroke-linejoin="round" />
<path d="M38.5 440 L38.91 437.76 L38.78 437.02 L39.31 434.82 L39.42 432.86 L39.87 431.46 L39.9 429.9 L40.9 428.56 L41.2 426.75 L42.05 425.95 L43 424 L43.98 422 L44.65 420.93 L45.76 419.74 L46.7 418.2 L47.73 416.62 L48.6 415.49 L50 414 L51.4 411.92 L53 411 L54.73 410.28 L56.5 408.4 L57.06 406.51 L58.27 405.19 L59 404 L59.96 402.23 L61.06 400.55 L62.3 398.7 L62.86 397.51 L63.68 394.66 L63.96 393.81 L64.68 392.07 L65 390 L65.88 388.44 L66.52 386.29 L67.58 385.27 L68.2 383.1 L68.91 381.54 L68.98 379.87 L69.69 377.79 L70 376 L70.61 374.2 L71.08 372.64 L71.31 370.93 L72.1 369.5 L72.31 368.5 L72.72 366.17 L72.9 364.43 L73.28 362.73 L73.39 362.03 L74 360 L74.47 358.41 L75.04 356.71 L75.3 354.9 L76 353.9 L76.01 352 L76.39 350.61 L76.64 348.68 L76.75 347.3 L76.37 345.14 L76.8 344.43 L76.79 342.5 L77 340.5 L77.56 339.24 L77.94 337.08 L79.04 335.13 L79.25 333.13 L80 332 L80.5 330.02 L81.52 328.26 L82.04 326.54 L82.8 325.2 L83.07 323.99 L83.31 321.54 L83.58 320.81 L83.71 318.1 L84.05 317.4 L83.98 314.86 L84.1 313.69 L84.5 312 L85.15 310.61 L85.59 308.53 L85.66 307.62 L86.27 305.65 L86.6 304.2 L87.17 305.94 L87.27 307.96 L88 310 L87.91 308.4 L88.28 306.49 L88.62 304.46 L88.73 302.42 L89.19 301.33 L89.42 298.97 L89.38 298.02 L89.5 296 L89.85 293.76 L90.19 292.07 L91.01 290.26 L91.3 289 L91.69 290.74 L91.72 292.77 L91.93 294.69 L92.16 296.13 L92.44 297.88 L92.5 300 L93.13 298.32 L93.67 295.77 L94 294 L94.35 296.2 L94.35 296.99 L94.59 299.41 L94.54 299.92 L94.94 302.32 L95.31 303.6 L95.63 305.06 L95.68 306.53 L95.43 308.21 L95.65 310.27 L96.1 311.9 L96.77 309.55 L97.63 307.81 L98 306 L98.08 307.33 L98.71 309.93 L98.65 310.58 L99.31 312.55 L99.72 314.57 L99.8 316.1 L100 318 L101.58 316.8 L102.8 315.7 L102.91 317.87 L102.99 319.36 L103.17 320.94 L103.59 322.89 L103.59 324.22 L104.01 326.34 L104.54 327.67 L104.32 328.91 L104.7 330.9 L104.69 332.56 L104.81 334.02 L105.26 336.28 L105.12 338.44 L105.21 339.67 L105.31 341.75 L105.88 342.78 L105.94 345.18 L105.8 346.33 L106.05 348.73 L106.2 350 L107.6 352 L107.65 353.84 L108.16 355.18 L108.4 357.31 L108.43 358.93 L108.77 360.42 L109.1 361.7 L109.52 362.93 L109.72 365.52 L109.58 365.97 L109.67 368.73 L109.81 370.27 L110.09 371.67 L110.5 373 L110.47 374.32 L111.04 375.94 L111.05 378.65 L111.49 380.32 L111.86 381.01 L111.63 383.64 L112 385 L112.45 386.28 L112.67 388.34 L112.96 390.03 L113.05 392.92 L113.56 394.62 L114 396 L114.19 397.76 L114.61 399.46 L115.05 401.54 L115.45 403.37 L116.07 404.39 L116.4 406.62 L116.9 408.4 L117.68 410.12 L117.78 412.76 L118.7 414.38 L119 416 L119.6 417.21 L120.34 418.68 L120.95 420.81 L121.9 422.47 L122.7 424 L123.52 425.41 L124.5 428 L125.66 430.08 L126.6 431.8 L128.33 432.96 L130 434 L131.98 435.55 L133.96 436.19 L135.6 436.9 L137.42 437 L139.31 438.11 L141.17 437.72 L143.07 437.75 L145 438.5 L146.9 437.98 L148.26 439.17 L149.65 438.87 L151.33 438.5 L152.82 438.43 L154.81 439.31 L156.45 438.5 L157.92 438.91 L159.4 439.2 L161.09 439.28 L162.49 439.81 L163.9 439.56 L166.01 439.3 L167.46 439.91 L168.84 439.49 L170.75 439.22 L172.33 439.26 L173.82 439.54 L175.51 439.22 L177.08 439.51 L178.43 439.61 L180.06 439.99 L181.78 439.79 L183.41 439.52 L184.83 439.14 L186.86 439.63 L188.21 439.65 L189.99 439.32 L191.2 440.05 L192.98 439.85 L194.8 440.18 L196.42 439.18 L197.73 440.15 L199.59 439.32 L201 439.8" fill="none" stroke="#2c6ad4" stroke-width="1.74" stroke-linejoin="round" />
<path d="M38.5 440 L38.57 438.06 L38.82 436.55 L39.52 435.11 L39.59 432.95 L39.9 431.8 L41.39 433 L43 433 L44.35 431.91 L45.45 431.29 L46.7 429.9 L49 432 L49.76 429.93 L50.31 428.54 L50.81 426.74 L51.32 425.21 L51.93 423.17 L52.6 422.1 L53.55 420.82 L54.6 418.98 L56 418 L57.23 416.3 L58.09 414.84 L59.5 413.23 L60.4 412.3 L61.53 410.58 L62.5 408 L62.77 406.08 L63.58 404.49 L63.77 401.98 L64.3 400.7 L64.94 398.87 L65.78 397.1 L66.27 395.85 L67 394 L67.96 392.07 L68.48 390.59 L69.58 388.38 L70.1 387 L70.86 385.5 L70.97 383.7 L71.42 381.23 L72 380 L72.65 378.21 L73.02 376.7 L73.74 375.36 L74 373.4 L74.12 371.83 L74.78 369.99 L75.4 368.26 L75.58 367.15 L76 365 L76.34 363.15 L76.77 361.71 L77.24 359.77 L77.46 357.09 L77.9 355.8 L78.36 354.06 L78.76 352.52 L78.72 350.06 L79.05 348.98 L79.41 346.31 L80 345 L80.55 343.28 L80.53 341.62 L81.33 339.58 L81.33 338.03 L82 336 L82.28 334.43 L82.97 333.05 L83.22 330.57 L83.23 329.36 L83.37 328.25 L84 326 L84.2 324.05 L84.55 322.37 L85.22 321.07 L85.34 319.24 L85.4 317.43 L86 316 L86.55 314.53 L86.88 312.04 L86.82 309.96 L87.36 308.52 L87.65 306.82 L88 305 L88.55 303.17 L89.18 301.31 L89.5 300 L90.2 298.27 L90.13 296.18 L90.87 294.49 L91.3 292.8 L91.55 294.24 L91.59 296.46 L91.81 298 L92.33 299.51 L92.34 301.57 L92.54 303.15 L92.52 304.27 L93 306 L93.75 303.46 L94.55 301.49 L95 300 L95.31 301.37 L95.75 303.57 L95.93 305.25 L96.1 307.21 L96.13 308.4 L96.7 310.07 L97 311.9 L97 314 L98.26 312.46 L100 311.9 L100.84 310.47 L101.28 308.16 L102 306 L102.25 308.09 L102.91 308.79 L102.93 311.03 L103.33 312.8 L104 314 L104.18 312.08 L104.65 310.58 L104.94 308.78 L105.45 307.39 L105.5 306 L106.4 307.55 L107.08 310.51 L107.6 311.9 L107.71 312.98 L107.88 315.34 L107.96 316.87 L108.06 318.41 L108.61 320 L108.76 321.26 L109.02 322.91 L109 325 L109.41 327.32 L109.57 328.48 L109.34 329.98 L109.77 331.88 L110.04 333.12 L109.92 335.77 L110.15 337.1 L110 338.35 L110.4 340.5 L110.53 339.22 L111.14 336.67 L111.45 334.69 L111.53 334.06 L111.64 332.28 L112 330 L112.64 327.79 L113 326.59 L113.5 325.27 L114.2 323.3 L114.46 325.32 L114.98 326.13 L115.59 327.84 L116 330 L116.26 332.12 L116.51 333.5 L116.4 335.34 L116.66 337.28 L116.9 338.97 L117.26 340.5 L117.67 342.02 L117.8 344.2 L117.89 346.53 L118.27 348.21 L118.87 349.58 L118.72 350.91 L119.44 352.74 L119.5 355 L119.88 356.68 L120.03 358.24 L120.44 359.96 L121.02 361.4 L121.4 363.2 L121.55 364.78 L121.88 366.15 L122.23 368.75 L122.72 370.47 L122.75 372.23 L123.36 373.75 L123.7 375.1 L124.07 377.05 L124.19 378.85 L124.47 379.99 L125 382 L125.49 383.54 L126.54 385.08 L127.3 387 L127.83 388.3 L127.95 390.28 L128.26 392.74 L128.63 393.67 L128.8 396 L129.35 397.85 L130.49 398.92 L130.9 401.2 L131.77 399.83 L132.5 398 L132.93 399.4 L133.16 401.13 L133.47 402.18 L133.71 404.24 L133.63 405.44 L133.77 407.81 L134.27 408.69 L134.4 410.7 L135.36 411.92 L136.5 414 L136.99 415.21 L137.75 417.67 L138.82 419 L139.2 420.2 L140.09 421.6 L141 423 L142.13 424.96 L143.08 426.1 L143.9 427.4 L145.02 428.85 L146.5 430 L147.84 431.84 L148.52 433.26 L149.9 434.5 L153 434 L154.41 435.09 L156 437 L157.98 437.71 L159.4 438 L161.11 438.13 L162.73 439.66 L164.1 439.7 L165.95 440.01 L167.51 440.09 L168.97 439.66 L170.71 440.09 L172.34 439.52 L174 439.82 L175.6 439.33 L177.22 440.15 L178.39 440.22 L179.98 439.47 L181.72 439.53 L183.35 440.35 L185.07 440.12 L186.5 440.22 L188.34 440.12 L190.03 440.3 L191.32 439.43 L193.07 440.34 L194.49 440.06 L196.39 440.31 L197.49 439.96 L199.11 439.52 L201 440" fill="none" stroke="#111128" stroke-width="1.74" stroke-linejoin="round" />
<line x1="37.3" y1="268.5" x2="37.3" y2="440.6" stroke="#2d64d0" stroke-width="3.0"/>
<line x1="36.3" y1="440.6" x2="201.3" y2="440.6" stroke="#111" stroke-width="1.6"/>
<rect x="124.3" y="275.1" width="10.8" height="10.9" fill="#3d96f5" stroke="#111" stroke-width="1.2"/>
<text x="139.6" y="283.3" font-family="Liberation Serif" font-size="10.8" font-weight="bold" text-anchor="start" fill="#000">-/-, CTLA4</text>
<rect x="124.3" y="293.6" width="10.8" height="10.9" fill="#22a022" stroke="#111" stroke-width="1.2"/>
<text x="139.6" y="301.8" font-family="Liberation Serif" font-size="10.8" font-weight="bold" text-anchor="start" fill="#000">-/-, CTRL</text>
<rect x="124.3" y="312.1" width="10.8" height="10.9" fill="#1428c8" stroke="#111" stroke-width="1.2"/>
<text x="139.6" y="320.3" font-family="Liberation Serif" font-size="10.8" font-weight="bold" text-anchor="start" fill="#000">+/-, CTLA4</text>
<rect x="124.3" y="330.6" width="10.8" height="10.9" fill="#ee2244" stroke="#111" stroke-width="1.2"/>
<text x="139.6" y="338.8" font-family="Liberation Serif" font-size="10.8" font-weight="bold" text-anchor="start" fill="#000">+/-, CTRL</text>
</g>
<g id="C">
<text x="219" y="13.3" font-family="Liberation Sans" font-size="16.8" font-weight="bold" text-anchor="start" fill="#000" stroke="#000" stroke-width="0.5">C</text>
<text x="0" y="0" font-family="Liberation Mono" font-size="12.8" font-weight="bold" text-anchor="start" fill="#000" transform="translate(278.8 9.6) scale(1 0.88)" stroke="#000" stroke-width="0.4">Histograms of</text>
<text x="0" y="0" font-family="Liberation Mono" font-size="12.8" font-weight="bold" text-anchor="start" fill="#000" transform="translate(255.2 25.4) scale(1 0.88)" stroke="#000" stroke-width="0.4">B7Ig binding</text>
<line x1="250.4" y1="38" x2="415.4" y2="38" stroke="#111" stroke-width="1.2"/>
<line x1="415.4" y1="38" x2="415.4" y2="204.6" stroke="#222" stroke-width="1.1"/>
<line x1="247.2" y1="205.3" x2="250.4" y2="205.3" stroke="#111" stroke-width="1"/>
<line x1="248.6" y1="192.67" x2="250.4" y2="192.67" stroke="#111" stroke-width="1"/>
<line x1="248.6" y1="180.04" x2="250.4" y2="180.04" stroke="#111" stroke-width="1"/>
<line x1="247.2" y1="167.41" x2="250.4" y2="167.41" stroke="#111" stroke-width="1"/>
<line x1="248.6" y1="154.78" x2="250.4" y2="154.78" stroke="#111" stroke-width="1"/>
<line x1="248.6" y1="142.15" x2="250.4" y2="142.15" stroke="#111" stroke-width="1"/>
<line x1="247.2" y1="129.52" x2="250.4" y2="129.52" stroke="#111" stroke-width="1"/>
<line x1="248.6" y1="116.89" x2="250.4" y2="116.89" stroke="#111" stroke-width="1"/>
<line x1="248.6" y1="104.26" x2="250.4" y2="104.26" stroke="#111" stroke-width="1"/>
<line x1="247.2" y1="91.63" x2="250.4" y2="91.63" stroke="#111" stroke-width="1"/>
<line x1="248.6" y1="79" x2="250.4" y2="79" stroke="#111" stroke-width="1"/>
<line x1="248.6" y1="66.37" x2="250.4" y2="66.37" stroke="#111" stroke-width="1"/>
<line x1="247.2" y1="53.74" x2="250.4" y2="53.74" stroke="#111" stroke-width="1"/>
<line x1="248.6" y1="41.11" x2="250.4" y2="41.11" stroke="#111" stroke-width="1"/>
<text x="0" y="0" font-family="Liberation Serif" font-size="10.7" font-weight="normal" text-anchor="end" fill="#000" transform="translate(245.4 211.5) scale(1 1.04)" stroke="#000" stroke-width="0.3">0</text>
<text x="0" y="0" font-family="Liberation Serif" font-size="10.7" font-weight="normal" text-anchor="end" fill="#000" transform="translate(246.5 173.61) scale(1 1.04)" stroke="#000" stroke-width="0.3">30</text>
<text x="0" y="0" font-family="Liberation Serif" font-size="10.7" font-weight="normal" text-anchor="end" fill="#000" transform="translate(246.6 135.72) scale(1 1.04)" stroke="#000" stroke-width="0.3">60</text>
<text x="0" y="0" font-family="Liberation Serif" font-size="10.7" font-weight="normal" text-anchor="end" fill="#000" transform="translate(246.7 97.83) scale(1 1.04)" stroke="#000" stroke-width="0.3">90</text>
<text x="0" y="0" font-family="Liberation Serif" font-size="10.7" font-weight="normal" text-anchor="end" fill="#000" transform="translate(247 59.94) scale(1 1.04)" stroke="#000" stroke-width="0.3">120</text>
<line x1="250.4" y1="205.1" x2="250.4" y2="208.1" stroke="#000" stroke-width="1"/>
<line x1="262.82" y1="205.1" x2="262.82" y2="206.7" stroke="#000" stroke-width="1"/>
<line x1="270.08" y1="205.1" x2="270.08" y2="206.7" stroke="#000" stroke-width="1"/>
<line x1="275.23" y1="205.1" x2="275.23" y2="206.7" stroke="#000" stroke-width="1"/>
<line x1="279.23" y1="205.1" x2="279.23" y2="206.7" stroke="#000" stroke-width="1"/>
<line x1="282.5" y1="205.1" x2="282.5" y2="206.7" stroke="#000" stroke-width="1"/>
<line x1="285.26" y1="205.1" x2="285.26" y2="206.7" stroke="#000" stroke-width="1"/>
<line x1="287.65" y1="205.1" x2="287.65" y2="206.7" stroke="#000" stroke-width="1"/>
<line x1="289.76" y1="205.1" x2="289.76" y2="206.7" stroke="#000" stroke-width="1"/>
<line x1="291.65" y1="205.1" x2="291.65" y2="208.1" stroke="#000" stroke-width="1"/>
<line x1="304.07" y1="205.1" x2="304.07" y2="206.7" stroke="#000" stroke-width="1"/>
<line x1="311.33" y1="205.1" x2="311.33" y2="206.7" stroke="#000" stroke-width="1"/>
<line x1="316.48" y1="205.1" x2="316.48" y2="206.7" stroke="#000" stroke-width="1"/>
<line x1="320.48" y1="205.1" x2="320.48" y2="206.7" stroke="#000" stroke-width="1"/>
<line x1="323.75" y1="205.1" x2="323.75" y2="206.7" stroke="#000" stroke-width="1"/>
<line x1="326.51" y1="205.1" x2="326.51" y2="206.7" stroke="#000" stroke-width="1"/>
<line x1="328.9" y1="205.1" x2="328.9" y2="206.7" stroke="#000" stroke-width="1"/>
<line x1="331.01" y1="205.1" x2="331.01" y2="206.7" stroke="#000" stroke-width="1"/>
<line x1="332.9" y1="205.1" x2="332.9" y2="208.1" stroke="#000" stroke-width="1"/>
<line x1="345.32" y1="205.1" x2="345.32" y2="206.7" stroke="#000" stroke-width="1"/>
<line x1="352.58" y1="205.1" x2="352.58" y2="206.7" stroke="#000" stroke-width="1"/>
<line x1="357.73" y1="205.1" x2="357.73" y2="206.7" stroke="#000" stroke-width="1"/>
<line x1="361.73" y1="205.1" x2="361.73" y2="206.7" stroke="#000" stroke-width="1"/>
<line x1="365" y1="205.1" x2="365" y2="206.7" stroke="#000" stroke-width="1"/>
<line x1="367.76" y1="205.1" x2="367.76" y2="206.7" stroke="#000" stroke-width="1"/>
<line x1="370.15" y1="205.1" x2="370.15" y2="206.7" stroke="#000" stroke-width="1"/>
<line x1="372.26" y1="205.1" x2="372.26" y2="206.7" stroke="#000" stroke-width="1"/>
<line x1="374.15" y1="205.1" x2="374.15" y2="208.1" stroke="#000" stroke-width="1"/>
<line x1="386.57" y1="205.1" x2="386.57" y2="206.7" stroke="#000" stroke-width="1"/>
<line x1="393.83" y1="205.1" x2="393.83" y2="206.7" stroke="#000" stroke-width="1"/>
<line x1="398.98" y1="205.1" x2="398.98" y2="206.7" stroke="#000" stroke-width="1"/>
<line x1="402.98" y1="205.1" x2="402.98" y2="206.7" stroke="#000" stroke-width="1"/>
<line x1="406.25" y1="205.1" x2="406.25" y2="206.7" stroke="#000" stroke-width="1"/>
<line x1="409.01" y1="205.1" x2="409.01" y2="206.7" stroke="#000" stroke-width="1"/>
<line x1="411.4" y1="205.1" x2="411.4" y2="206.7" stroke="#000" stroke-width="1"/>
<line x1="413.51" y1="205.1" x2="413.51" y2="206.7" stroke="#000" stroke-width="1"/>
<line x1="415.4" y1="205.1" x2="415.4" y2="208.1" stroke="#000" stroke-width="1"/>
<text x="0" y="0" font-family="Liberation Serif" font-size="10.7" font-weight="normal" text-anchor="middle" fill="#000" transform="translate(253.8 222.8) scale(1 1.04)" stroke="#000" stroke-width="0.3">0.1</text>
<text x="0" y="0" font-family="Liberation Serif" font-size="10.7" font-weight="normal" text-anchor="middle" fill="#000" transform="translate(292.6 222.8) scale(1 1.04)" stroke="#000" stroke-width="0.3">1</text>
<text x="0" y="0" font-family="Liberation Serif" font-size="10.7" font-weight="normal" text-anchor="middle" fill="#000" transform="translate(334.2 222.8) scale(1 1.04)" stroke="#000" stroke-width="0.3">10</text>
<text x="0" y="0" font-family="Liberation Serif" font-size="10.7" font-weight="normal" text-anchor="middle" fill="#000" transform="translate(376.5 222.8) scale(1 1.04)" stroke="#000" stroke-width="0.3">100</text>
<text x="0" y="0" font-family="Liberation Serif" font-size="10.7" font-weight="normal" text-anchor="middle" fill="#000" transform="translate(418.3 222.8) scale(1 1.04)" stroke="#000" stroke-width="0.3">1000</text>
<text x="0" y="0" font-family="Liberation Mono" font-size="13.0" font-weight="bold" text-anchor="middle" fill="#000" transform="translate(228.7 125.2) rotate(-90) scale(1 0.78)" stroke="#000" stroke-width="0.4">Cell numbers</text>
<path d="M251 204.5 L253.09 203.9 L254.86 203.45 L256.7 203 L258.37 202.32 L260.15 202.75 L262 202 L263.67 201.51 L264.95 201.25 L266.92 201.21 L268.5 201.41 L270 200.8 L271.77 200.75 L273.72 200.65 L276 200 L277.81 199.13 L280 198.8 L281.4 197.26 L282.08 196.52 L283.44 195.15 L284.5 193.3 L285.56 191.87 L287.02 190.46 L288.17 188.65 L289 187.6 L290.05 185.52 L290.72 183.65 L291.36 183.11 L292.4 180.9 L292.81 179.47 L293.13 177.12 L293.48 175.56 L294.38 173.72 L294.6 171.9 L294.99 170.61 L295.76 168.5 L295.73 166.65 L296.41 165.25 L296.9 162.9 L297.37 161.42 L298.08 159.4 L298.56 158.09 L299.1 156.2 L299.66 154.6 L299.65 153.57 L299.78 151.8 L300.47 149.87 L300.64 148.5 L301.22 146.87 L301.3 145 L301.69 142.64 L301.68 140.96 L302.29 140.07 L302.05 137.91 L302.5 136 L303.1 133.76 L303.54 132.9 L304.23 130.64 L304.7 129.2 L305.8 127 L306.24 125.06 L306.4 123.53 L306.95 122.12 L307.13 120.46 L307.17 119.12 L307.65 117.1 L307.68 114.78 L308.1 113.5 L308.38 112.2 L308.75 109.94 L308.6 108.46 L309.28 106.34 L309.43 104.67 L309.41 102.84 L309.64 101.55 L310 100 L310.51 98.75 L310.28 96.17 L310.97 94.24 L310.83 92.73 L310.93 90.71 L311.4 89.2 L311.45 87.36 L311.91 85.52 L311.57 84.59 L311.83 82.8 L312.05 81.03 L311.97 78.58 L312.2 77.3 L312.85 75.56 L313.24 74.1 L313.85 71.93 L314.12 71 L314.7 68.8 L315 70.25 L315.34 71.91 L315.71 73.35 L316.03 75.68 L316.03 77.83 L316.4 79 L316.46 77.07 L316.54 75.81 L317.15 74.34 L317.15 72.87 L317.17 70.64 L317.69 69.81 L317.88 67.86 L318 66 L318.36 64.07 L318.66 62.69 L318.51 60.47 L318.98 58.62 L319 57 L319.38 55.75 L320.15 53.63 L320.7 51.9 L321.23 54.06 L321.33 55.06 L321.71 56.82 L322.4 58.6 L322.62 60.72 L322.95 62.09 L323.01 63.79 L323.15 65.81 L323.68 67.51 L323.52 69.01 L324.11 70.5 L324.42 72.68 L324.4 73.9 L324.72 75.99 L324.84 77.75 L324.7 79.24 L325.22 80.83 L325.14 81.88 L325.51 84.49 L325.49 85.46 L325.8 87.5 L325.88 88.76 L326.41 91.57 L326.73 92.58 L326.92 93.99 L327.25 96.04 L327.3 98 L327.33 99.73 L327.73 100.88 L328.01 102.66 L328.6 104.3 L328.79 106.39 L328.64 108.14 L328.84 109.14 L329.31 111.01 L329.29 113.01 L329.38 115 L329.53 116.78 L330.05 118.14 L329.74 120.16 L329.9 121.56 L330.3 122.75 L330.5 125 L330.79 126.98 L330.97 128.3 L331.14 130.24 L331.18 132.29 L331.85 133.92 L332.04 135.06 L332.27 136.46 L332.18 138.25 L332.4 140.4 L332.61 142.35 L332.99 143.81 L333.01 145.23 L333.28 147.07 L333.38 149.35 L333.81 150.73 L333.85 152.78 L334.08 153.99 L334.5 156 L334.76 157.88 L335.24 159.57 L335.45 161.41 L335.54 162.81 L335.37 163.83 L335.57 166.25 L336.22 167.61 L336.18 168.92 L336.34 170.89 L337.07 172.13 L337 174 L336.94 175.32 L337.34 177.91 L337.83 179.09 L337.62 180.39 L337.86 182.9 L338.27 184.87 L338.5 186 L339.11 187.99 L339.21 189.67 L339.36 190.45 L339.98 192.57 L340.3 194.2 L341.3 195.35 L342.36 197.59 L343.95 199.08 L345 200 L347.09 200.99 L348.74 201.99 L350.4 203.2 L352.19 203.88 L353.38 203.15 L355.03 204.1 L356.73 203.68 L358.6 204.88 L360 204.8 L361.64 204.27 L363.57 204.87 L364.74 204.64 L366.74 205.33 L368.32 205.05 L369.82 204.59 L371.91 204.78 L373.1 205.04 L374.78 204.59 L376.64 205.07 L378.42 205.23 L380 205" fill="none" stroke="#e8343e" stroke-width="1.67" stroke-linejoin="round" />
<path d="M251 204.6 L252.71 204.01 L254.63 203.91 L256.23 204.26 L258.1 204.56 L259.59 204.4 L261.62 204.12 L263.04 204.57 L265 204 L266.73 203.23 L268.18 204.08 L269.84 203.12 L271.84 203.39 L273.41 203.04 L275 202.5 L276.16 201.29 L278.17 201.42 L279.04 199.8 L280.6 200.14 L282.2 198.9 L283 197.82 L284.4 196.49 L285.37 194.76 L285.88 193.18 L287.21 192 L288.31 191.44 L289 189.9 L289.71 188.69 L290.6 186.75 L291.46 185.5 L292.83 184.08 L293.5 182 L293.69 180.66 L294.5 178.87 L294.96 176.87 L295.5 175.33 L295.68 172.68 L296.44 171.21 L296.9 169.7 L299.1 167.4 L299.48 165.01 L300.13 163.23 L300.62 162.37 L300.83 159.75 L301.3 158.4 L301.68 156.37 L301.83 154.58 L302.45 153.43 L302.36 151.21 L302.88 150.44 L303.23 147.87 L303.23 146.44 L303.6 145 L304.03 142.89 L304.21 142.2 L304.59 139.35 L304.44 137.79 L305.09 136.68 L305.26 134.82 L305.47 133.32 L305.8 131.5 L306.18 130.31 L306.51 128.48 L306.91 126.84 L307.08 124.19 L307.35 123.48 L307.48 121.83 L307.62 120.22 L308.1 118 L308.38 116.63 L308.58 114.53 L308.95 112.95 L309.11 111.47 L309.96 110.11 L310.25 108.63 L310.3 106.7 L310.8 105.62 L311.05 103.08 L311.05 101.57 L311.5 100 L311.56 97.89 L312.42 96.93 L312.43 94.97 L313.04 93.32 L313.39 91.11 L313.32 89.68 L313.9 87.5 L314.19 85.78 L314.62 83.79 L315.38 81.47 L315.5 80 L316.4 77.3 L318 76 L318.52 74.28 L319 72.2 L319.65 71.03 L320.19 69.3 L320.99 67.66 L321.5 65.4 L322.6 65.3 L322.8 66.7 L323.5 68.8 L323.51 70.97 L323.47 71.88 L324.03 74.44 L323.84 75.46 L324.28 77.45 L324.3 78.9 L324.77 80.9 L324.8 82.01 L324.99 84.23 L325.43 85.41 L326.2 87.57 L326.3 89.29 L326.63 91.03 L326.9 92.5 L327.14 93.66 L327.35 95.29 L327.89 97.13 L328.1 99.24 L328.97 101.15 L328.91 102.94 L329.4 104.3 L329.55 105.52 L329.96 107.59 L330.53 109.33 L330.9 110.61 L331.1 112.8 L331.45 114.29 L331.47 115.6 L331.56 117.51 L331.66 119.88 L331.64 120.93 L331.33 122.51 L331.95 124.15 L331.89 126.34 L331.98 127.54 L331.75 129.12 L332.34 131.14 L332.23 133.04 L332.06 134.12 L332.02 136.74 L332.4 138 L332.55 140.27 L333.06 141.7 L333.3 143.49 L333.74 144.7 L334.27 146.11 L334.48 148.64 L335 150 L335.27 151.52 L335.96 152.99 L336.02 154.64 L336.53 156.48 L337 158.3 L337.37 159.94 L337.79 161.1 L337.96 163.72 L337.98 164.42 L338.39 166.2 L338.69 168.58 L339 170 L339.24 171.24 L339.95 173.01 L340.28 175.03 L340.69 176.28 L341.4 178.5 L341.84 180.34 L342.71 182.32 L342.72 183.79 L343.5 186 L344.13 187.72 L344.68 189.83 L345.15 190.45 L345.69 192.59 L345.9 194.2 L346.78 195.4 L348.19 197.05 L349 199 L349.95 200.12 L351.65 201.75 L352.6 203.2 L354.59 203.04 L356.27 203.68 L357.97 204.45 L360 204.6 L361.58 204.18 L363.62 204.64 L364.81 204.11 L366.76 204.75 L368.05 204.73 L370.14 204.84 L371.51 204.83 L373.4 205.05 L374.79 205.26 L376.93 205.22 L378.55 204.81 L380 205" fill="none" stroke="#121232" stroke-width="1.67" stroke-linejoin="round" />
<path d="M270 204.8 L271.96 204.23 L273.26 204.55 L275.38 203.74 L276.69 203.5 L278.53 203.44 L280.1 203.98 L282 203.5 L283.89 203.55 L285.62 202.75 L287.23 202.6 L289.2 201.55 L291.2 201.1 L292.57 200.3 L293.92 199.01 L295.35 196.74 L296.84 195.38 L298 194.4 L299.42 192.95 L300.09 192.15 L301.27 190.09 L302.5 188.8 L303.04 187.32 L303.48 185.28 L304.2 184.14 L304.73 182.2 L305.52 180.33 L306.3 178.7 L306.84 177.15 L307.08 174.79 L307.57 173.85 L308.09 171.06 L308.8 169.7 L309.25 168 L309.91 165.57 L309.96 163.9 L310.61 162.44 L311 160.7 L311.41 159.37 L312.02 157.53 L312.65 155.02 L313.11 153.39 L313.3 151.7 L313.27 150.4 L313.54 147.52 L313.89 146.05 L314.54 144.94 L314.5 142.7 L315.6 140.4 L315.79 138.66 L316.29 137.21 L316.41 135.08 L316.33 132.97 L316.8 131.5 L317.07 129.99 L317.32 128.75 L317.59 126.29 L317.23 125.52 L317.7 123.05 L317.94 121.52 L318 120.2 L318.01 118.44 L318.36 117.21 L318.26 115.69 L318.76 113.77 L318.96 112.56 L318.73 110.57 L319.2 109 L319.53 107.45 L319.73 105.02 L320.14 103.94 L319.92 101.72 L320.3 100 L320.87 97.81 L320.85 96.87 L321.44 94.16 L321.64 92.47 L321.8 90.8 L322.6 92.82 L323.2 94.2 L323.17 92.18 L323.41 90.54 L323.49 88.7 L323.9 87.35 L323.89 85.85 L324.6 84.16 L324.44 82.62 L324.67 80.3 L324.9 79 L325.04 76.67 L325.2 75.5 L325.54 73.41 L325.59 72.69 L326.06 70.85 L326.22 68.93 L326.49 67.64 L326.6 65.4 L326.69 63.79 L327.03 61.26 L327.62 59.75 L327.7 57.7 L328.12 59.74 L328.18 60.51 L328.05 62.5 L328.69 63.77 L328.51 65.03 L328.79 67.45 L329.2 68.8 L330.3 67 L331.25 64.98 L332.8 63.6 L333.23 65.55 L334.23 66.42 L334.5 68.7 L334.39 67.54 L335.02 64.92 L334.76 63.69 L334.87 61.88 L335.1 60.3 L335.72 58.01 L336.1 55.8 L337 54.3 L337.08 55.64 L337.64 58.2 L337.71 60.15 L338.27 61.44 L338.41 63.09 L338.7 65.3 L339.24 67.07 L339 68.28 L339.67 70.26 L339.96 71.78 L340.29 74.16 L340.4 75.5 L340.5 77.3 L340.89 79.15 L341.6 80.95 L341.6 81.81 L342.1 84 L342.44 85.76 L342.37 87 L342.88 88.59 L343.15 90.43 L343.17 92.34 L343.58 94.38 L343.8 95.8 L343.73 97.77 L344.06 98.95 L344.52 101.13 L344.72 103.08 L344.69 104.07 L345.17 105.71 L345.08 107.37 L345.5 109.4 L345.85 111.53 L346.01 113.42 L346.24 114.37 L346.14 116.6 L346.18 118.2 L346.39 119.26 L346.83 121.11 L347.27 123.72 L347.2 125 L347.36 126.38 L347.33 128.49 L347.75 130.06 L348.05 132 L348.1 133.7 L348.48 134.89 L348.28 136.89 L348.74 138.39 L349.07 140.02 L349.08 141.99 L349.54 144.01 L349.55 145.28 L350.1 147.53 L350.13 148.2 L350.26 150.5 L350.5 152 L350.6 153.14 L351.26 155.89 L350.98 157.06 L351.5 158.56 L351.41 160.8 L352.06 162.12 L351.88 163.77 L352.12 166.16 L352.6 167.3 L352.6 168.72 L353.3 170.2 L353.18 171.8 L353.48 174.02 L354.16 175.26 L354.03 177.65 L354.5 179 L354.89 180.59 L355.14 182.26 L356.08 183.89 L356.09 186.42 L356.9 188.4 L357.1 189.7 L357.68 192.07 L358.36 193.1 L358.88 195.43 L359.5 197 L360.71 198.22 L361.45 200.88 L362.7 202 L364.29 203 L366.25 202.95 L368.03 203.84 L370 204.5 L371.96 204.12 L373.55 204.37 L374.8 204.92 L376.57 204.29 L378.28 205.09 L380.22 204.84 L381.37 205.11 L383.4 205.31 L385.27 204.67 L386.88 205.3 L388.19 204.8 L390 205" fill="none" stroke="#2a78dc" stroke-width="1.67" stroke-linejoin="round" />
<path d="M285 204.8 L286.59 204.52 L288.26 204.13 L289.84 204.99 L291.61 204.56 L293.57 204.61 L295 204.2 L296.95 204.44 L299.38 204.26 L301.3 203.4 L302.75 202.57 L304.12 200.84 L305.34 199.86 L306.77 198.43 L307.91 197.54 L309.2 196.6 L310.29 195.07 L311.21 194.34 L312.13 192.15 L313.06 191.53 L313.7 189.9 L314.29 188.48 L314.4 187.14 L315.19 185.05 L315.55 183.84 L316.3 182.34 L316.44 180.11 L317.1 178.7 L317.26 176.61 L317.62 174.9 L318.22 173.53 L318.1 171.72 L318.82 170.27 L318.96 168.9 L319.3 167.4 L319.66 166.09 L319.54 163.86 L320.06 161.81 L320 160 L320.64 158.62 L320.69 157.13 L321.24 154.55 L321.65 153.76 L322 151.7 L322.23 150.01 L322.38 148.81 L322.74 146.34 L322.77 144.85 L323.35 143.58 L323.06 142.17 L323.5 140 L323.45 138.48 L323.91 137.01 L324.13 134.64 L324.41 133.88 L324.8 131.7 L324.68 130.54 L325.26 128.29 L325.3 127 L325.77 125.79 L325.74 123.26 L326.15 122.12 L326.08 119.56 L326.5 118 L326.67 116.59 L326.86 114.68 L327.33 113.14 L327.39 111.8 L328.17 109.64 L328.33 107.5 L328.67 106.25 L328.7 104.5 L329.61 102.69 L330.2 100 L330.38 98.84 L330.56 96.09 L331 95.48 L331.51 93.88 L331.54 92.19 L331.8 90 L332.09 87.99 L332.39 87.19 L332.53 85.37 L332.68 83.39 L333.04 82.09 L333.32 80 L333.6 78.9 L333.74 77.01 L334.6 75.8 L334.74 73.51 L335.34 71.71 L335.83 70.88 L336.2 68.7 L337.17 70.45 L338.5 72 L339.38 70.3 L340 68 L340.63 69.92 L340.86 71.74 L341.5 73 L342.51 70.46 L343 69 L344.4 67.1 L344.82 68.72 L344.47 69.95 L345.05 72.37 L344.81 73.79 L345.27 76.13 L345.24 77.53 L345.5 78.9 L345.48 80.39 L345.56 82.49 L345.97 84.21 L345.83 85.96 L345.92 87.78 L346.3 90 L346.34 91.82 L346.41 93.61 L346.71 96.02 L346.89 97.8 L347.03 98.72 L347.2 100.9 L347.53 102.17 L347.56 103.79 L348.15 106.56 L348.25 107.52 L348.54 109.22 L348.98 110.97 L348.94 113.24 L349.47 113.91 L349.7 116.2 L350.17 118.07 L350.14 119.54 L350.74 120.85 L350.71 122.32 L351.05 124.35 L351.42 126.28 L351.33 127.18 L352.02 129.28 L352.13 130.73 L352.24 132.64 L352.6 133.7 L352.83 135.37 L352.81 136.81 L353.44 139.42 L353.12 140.64 L353.59 142.63 L353.72 144.9 L353.91 146.25 L354.2 148 L354.66 149.81 L354.59 151.09 L354.73 153.06 L355.17 154.29 L355.12 156.09 L355.32 158.36 L355.62 159.24 L355.7 161.54 L356 162.8 L356.08 164.63 L356.28 165.63 L356.59 167.97 L356.93 168.87 L357.16 170.52 L357.85 172.66 L358 174 L358.6 176.15 L358.74 177.73 L358.83 179.35 L359.39 180.09 L359.93 182.5 L360.07 183.2 L360.5 185.3 L361.22 187.22 L361.56 189.11 L361.72 189.62 L362.27 191.19 L363.12 193.54 L363.5 195 L364.19 196.09 L365.16 198.13 L366.38 200.06 L367.2 201 L368.68 202.23 L370.28 202.19 L371.73 202.66 L373.72 204.23 L375 204.3 L376.79 203.97 L378.14 204 L379.91 204.76 L381.4 204.57 L383.44 204.03 L384.96 205 L386.71 204.65 L388.56 204.89 L389.9 204.7 L391.93 205.31 L393.58 205.01 L395 205" fill="none" stroke="#1b3d1f" stroke-width="1.67" stroke-linejoin="round" />
<path d="M295 204.8 L296.45 204.36 L298.26 204.93 L299.7 205.01 L301.84 204.62 L303.04 204.91 L305 204.5 L306.69 204.48 L308.52 204.33 L310.17 204.39 L312.23 204.13 L313.7 203.4 L314.89 201.82 L315.87 200.4 L317.3 199.67 L318.35 198.35 L319.3 196.6 L320.23 195.11 L320.47 193.47 L321.08 191.57 L321.66 190.15 L322.5 188 L323.19 185.96 L324.15 183.95 L324.86 182.98 L325.3 180.9 L325.64 179.49 L326.44 177.94 L327 175.64 L327.5 174 L328.34 171.85 L328.82 170.22 L329.09 168.59 L329.8 167.4 L330.67 165.48 L331.24 163.41 L331.89 162.03 L332.4 160 L332.36 158.28 L332.93 156.23 L333.09 154.59 L333.12 153.65 L333.67 152.03 L333.56 149.8 L333.8 148 L334.44 146.76 L334.7 144.9 L334.72 143.68 L334.74 142.12 L334.83 139.47 L335.05 137.84 L335.06 136.07 L335.29 135 L335.19 132.85 L335.18 131.49 L335 130.35 L334.92 128.29 L335 127.08 L335.3 125 L337 122.4 L337.37 120.19 L337.24 119.06 L337.52 117.71 L337.43 116.3 L337.47 113.69 L337.97 112.02 L337.73 110.82 L337.95 108.77 L338.43 107.48 L338.48 105.56 L338.69 103.87 L338.81 102.69 L338.7 100.9 L339.78 99.78 L340.3 98 L340.71 96.21 L341.18 94.27 L341.3 92.5 L341.27 91.3 L341.91 89.32 L342.08 87.08 L342.13 86.09 L342.64 84.51 L342.37 82.52 L342.82 80.49 L343 78.9 L343.04 76.76 L343.47 75.49 L343.59 73.64 L344 72.41 L344.27 69.99 L344.69 68.54 L344.7 67 L345.63 69.08 L346 70 L346.18 68.53 L347.08 66.73 L347.2 65.3 L348.9 66.2 L349.27 64.12 L349.3 62.13 L349.69 60.36 L350.34 58.84 L350.6 56.9 L351.54 58.82 L351.85 60.84 L352.6 62 L352.82 63.74 L353.1 65.58 L352.94 67.2 L353.04 69.32 L353.15 71.02 L353.18 71.55 L353.61 73.48 L353.72 75.06 L354.06 77.41 L354 78.9 L354.32 81.11 L354.72 82.51 L354.77 83.4 L354.58 85.61 L355.34 87.18 L355.32 88.51 L355.44 91.28 L355.7 92.5 L355.92 94.58 L355.75 95.52 L356.02 97.97 L356.14 99.78 L356.41 101.41 L356.73 102.43 L357.17 104.22 L357.18 105.5 L357.43 108.29 L357.4 109.4 L357.26 111.43 L357.44 112.44 L357.59 114.79 L358.03 116.93 L358.14 118.21 L358.03 119.39 L358.16 121.59 L358.03 123.75 L358.2 125 L358.51 126.31 L358.91 128.06 L359.63 130.58 L359.84 131.96 L360.5 133.7 L360.73 135.56 L360.82 137.33 L360.77 138.53 L361.2 140.53 L361.59 142.33 L361.82 144.11 L361.57 146.19 L362 148 L362.13 149.45 L362.56 150.96 L362.7 153.34 L362.77 154.58 L363.25 156.35 L363.01 157.35 L363.15 159.31 L363.35 161.33 L363.8 162.8 L364.07 164.31 L364.44 166.81 L364.59 167.61 L364.94 169.56 L365.62 171.76 L365.64 172.86 L366 175 L366.11 176.26 L366.98 178.61 L366.94 180.3 L367.27 181.87 L367.82 183.11 L368.3 185.3 L368.9 187.18 L369.21 188.14 L369.75 190.07 L370.2 191.28 L370.79 192.79 L371 195 L371.63 196.28 L372.42 197.31 L373.51 199.79 L374.1 200.32 L375 202 L376.77 202.1 L378.27 203.09 L379.96 202.89 L381.41 203.78 L383.63 204.67 L385 204.6 L386.39 204.62 L388.26 204.27 L390 204.66 L391.71 204.43 L393.42 205.08 L394.77 204.3 L396.41 204.3 L398.16 205.01 L399.73 205.36 L401.04 205.07 L403.13 204.37 L404.47 204.32 L406.26 205.14 L407.75 205.13 L409.39 205.17 L410.97 205.51 L412.7 204.36 L414.12 205.25 L416 205" fill="none" stroke="#0a0a0a" stroke-width="1.67" stroke-linejoin="round" />
<path d="M251.2 205 L251.21 203.4 L251.22 201.8 L251.23 200.2 L251.25 198.6 L251.26 197 L251.27 195.4 L251.28 193.8 L251.29 192.2 L251.3 190.6 L251.31 189 L251.33 187.4 L251.34 185.8 L251.35 184.2 L251.36 182.6 L251.37 181 L251.38 179.4 L251.39 177.8 L251.41 176.2 L251.42 174.6 L251.43 173 L251.44 171.4 L251.45 169.8 L251.46 168.2 L251.47 166.6 L251.49 165 L251.5 163.4 L251.51 161.8 L251.52 160.2 L251.53 158.6 L251.54 157 L251.55 155.4 L251.57 153.8 L251.58 152.2 L251.59 150.6 L251.6 149 L251.62 150.6 L251.63 152.2 L251.65 153.8 L251.67 155.4 L251.69 157 L251.7 158.6 L251.72 160.2 L251.74 161.8 L251.75 163.4 L251.77 165 L251.79 166.6 L251.81 168.2 L251.82 169.8 L251.84 171.4 L251.86 173 L251.87 174.6 L251.89 176.2 L251.91 177.8 L251.93 179.4 L251.94 181 L251.96 182.6 L251.98 184.2 L251.99 185.8 L252.01 187.4 L252.03 189 L252.05 190.6 L252.06 192.2 L252.08 193.8 L252.1 195.4 L252.11 197 L252.13 198.6 L252.15 200.2 L252.17 201.8 L252.18 203.4 L252.2 205" fill="none" stroke="#222" stroke-width="1.59" stroke-linejoin="round" />
<line x1="250.4" y1="38" x2="250.4" y2="204.6" stroke="#0a0a0a" stroke-width="1.8"/>
<line x1="249.4" y1="204.6" x2="415.4" y2="204.6" stroke="#333" stroke-width="1.8"/>
<line x1="252" y1="204.3" x2="288" y2="204.3" stroke="#3a78d8" stroke-width="1.8"/>
<line x1="288" y1="204.3" x2="302" y2="204.3" stroke="#237a2b" stroke-width="1.6"/>
<rect x="427.7" y="80.5" width="11.6" height="11.7" fill="#000000" stroke="#111" stroke-width="1.2"/>
<rect x="427.7" y="98.7" width="11.6" height="11.7" fill="#3399ff" stroke="#111" stroke-width="1.2"/>
<rect x="427.7" y="116.9" width="11.6" height="11.7" fill="#1e9a1e" stroke="#111" stroke-width="1.2"/>
<rect x="427.7" y="135.1" width="11.6" height="11.7" fill="#0b22c8" stroke="#111" stroke-width="1.2"/>
<rect x="427.7" y="153.3" width="11.6" height="11.7" fill="#ee2244" stroke="#111" stroke-width="1.2"/>
<text x="0" y="0" font-family="Liberation Mono" font-size="10.6" font-weight="bold" text-anchor="start" fill="#000" transform="translate(448.6 81.4) scale(1 0.9)" stroke="#000" stroke-width="0.4">B7Ig+@CD28</text>
<text x="0" y="0" font-family="Liberation Mono" font-size="10.6" font-weight="bold" text-anchor="start" fill="#000" transform="translate(448.6 94.1) scale(1 0.9)" stroke="#000" stroke-width="0.4">/CTLA4</text>
<text x="0" y="0" font-family="Liberation Mono" font-size="10.6" font-weight="bold" text-anchor="start" fill="#000" transform="translate(448.6 107.3) scale(1 0.9)" stroke="#000" stroke-width="0.4">B7Ig+@CTLA4</text>
<text x="0" y="0" font-family="Liberation Mono" font-size="10.6" font-weight="bold" text-anchor="start" fill="#000" transform="translate(448.6 126.5) scale(1 0.9)" stroke="#000" stroke-width="0.4">B7Ig+@CD28</text>
<text x="0" y="0" font-family="Liberation Mono" font-size="10.6" font-weight="bold" text-anchor="start" fill="#000" transform="translate(448.6 145.6) scale(1 0.9)" stroke="#000" stroke-width="0.4">B7Ig</text>
<text x="0" y="0" font-family="Liberation Mono" font-size="10.6" font-weight="bold" text-anchor="start" fill="#000" transform="translate(448.6 164.6) scale(1 0.9)" stroke="#000" stroke-width="0.4">Ctrl</text>
</g>
<g id="D">
<text x="224" y="248.2" font-family="Liberation Sans" font-size="16.8" font-weight="bold" text-anchor="start" fill="#000" stroke="#000" stroke-width="0.5">D</text>
<text x="0" y="0" font-family="Liberation Mono" font-size="12.8" font-weight="bold" text-anchor="start" fill="#000" transform="translate(278 251) scale(1 0.88)" stroke="#000" stroke-width="0.4">Mean fluorescence</text>
<line x1="253.8" y1="265.8" x2="414.1" y2="265.8" stroke="#111" stroke-width="1.3"/>
<line x1="414.1" y1="265.8" x2="414.1" y2="425.8" stroke="#111" stroke-width="1.3"/>
<line x1="253.8" y1="265.8" x2="253.8" y2="428.3" stroke="#000" stroke-width="1.6"/>
<line x1="253.8" y1="425.8" x2="414.1" y2="425.8" stroke="#000" stroke-width="1.6"/>
<line x1="248.8" y1="425.8" x2="253.8" y2="425.8" stroke="#000" stroke-width="1.2"/>
<line x1="251" y1="399.2" x2="253.8" y2="399.2" stroke="#000" stroke-width="1.2"/>
<line x1="248.8" y1="372.6" x2="253.8" y2="372.6" stroke="#000" stroke-width="1.2"/>
<line x1="251" y1="346" x2="253.8" y2="346" stroke="#000" stroke-width="1.2"/>
<line x1="248.8" y1="319.4" x2="253.8" y2="319.4" stroke="#000" stroke-width="1.2"/>
<line x1="251" y1="292.8" x2="253.8" y2="292.8" stroke="#000" stroke-width="1.2"/>
<line x1="248.8" y1="266.2" x2="253.8" y2="266.2" stroke="#000" stroke-width="1.2"/>
<text x="244.4" y="431.1" font-family="Liberation Sans" font-size="10.4" font-weight="normal" text-anchor="end" fill="#555">0</text>
<text x="244.4" y="377.9" font-family="Liberation Sans" font-size="10.4" font-weight="normal" text-anchor="end" fill="#555">10</text>
<text x="244.4" y="324.7" font-family="Liberation Sans" font-size="10.4" font-weight="normal" text-anchor="end" fill="#555">20</text>
<text x="244.4" y="271.5" font-family="Liberation Sans" font-size="10.4" font-weight="normal" text-anchor="end" fill="#555">30</text>
<text x="0" y="0" font-family="Liberation Serif" font-size="7.6" font-weight="bold" text-anchor="middle" fill="#000" transform="translate(233.4 344) rotate(-90) scale(1 1.0)">MFC</text>
<line x1="285.6" y1="425.8" x2="285.6" y2="428.6" stroke="#000" stroke-width="1.2"/>
<line x1="317.8" y1="425.8" x2="317.8" y2="428.6" stroke="#000" stroke-width="1.2"/>
<line x1="350" y1="425.8" x2="350" y2="428.6" stroke="#000" stroke-width="1.2"/>
<line x1="382.4" y1="425.8" x2="382.4" y2="428.6" stroke="#000" stroke-width="1.2"/>
<line x1="414.1" y1="425.8" x2="414.1" y2="428.6" stroke="#000" stroke-width="1.2"/>
<rect x="256.4" y="405.4" width="26.5" height="20.4" fill="#000"/>
<line x1="296" y1="318" x2="307.6" y2="318" stroke="#000" stroke-width="1.3"/>
<line x1="301.8" y1="318" x2="301.8" y2="321.6" stroke="#000" stroke-width="1.3"/>
<rect x="288.6" y="321.6" width="26.6" height="104.2" fill="#000"/>
<line x1="327" y1="355.3" x2="341" y2="355.3" stroke="#000" stroke-width="1.3"/>
<line x1="334" y1="355.3" x2="334" y2="356" stroke="#000" stroke-width="1.3"/>
<rect x="320.8" y="356" width="26.5" height="69.8" fill="#000"/>
<line x1="360.6" y1="380.2" x2="372.4" y2="380.2" stroke="#000" stroke-width="1.3"/>
<line x1="366.5" y1="380.2" x2="366.5" y2="381.8" stroke="#000" stroke-width="1.3"/>
<rect x="352.9" y="381.8" width="27" height="44" fill="#000"/>
<line x1="392.9" y1="396.6" x2="404.5" y2="396.6" stroke="#000" stroke-width="1.3"/>
<line x1="398.7" y1="396.6" x2="398.7" y2="398.1" stroke="#000" stroke-width="1.3"/>
<rect x="385.1" y="398.1" width="27" height="27.7" fill="#000"/>
<text x="0" y="0" font-family="Liberation Mono" font-size="9.8" font-weight="bold" text-anchor="start" fill="#000" transform="translate(277.4 468.6) rotate(-90) scale(1 0.9)" stroke="#000" stroke-width="0.4">Ctrl</text>
<text x="0" y="0" font-family="Liberation Mono" font-size="9.8" font-weight="bold" text-anchor="start" fill="#000" transform="translate(309.2 468.6) rotate(-90) scale(1 0.9)" stroke="#000" stroke-width="0.4">B7Ig</text>
<text x="0" y="0" font-family="Liberation Mono" font-size="9.8" font-weight="bold" text-anchor="start" fill="#000" transform="translate(334.2 468.6) rotate(-90) scale(1 0.9)" stroke="#000" stroke-width="0.4">B7Ig+</text>
<text x="0" y="0" font-family="Liberation Mono" font-size="9.8" font-weight="bold" text-anchor="start" fill="#000" transform="translate(347.2 468.6) rotate(-90) scale(1 0.9)" stroke="#000" stroke-width="0.4">@CD28</text>
<text x="0" y="0" font-family="Liberation Mono" font-size="9.8" font-weight="bold" text-anchor="start" fill="#000" transform="translate(367.2 468.6) rotate(-90) scale(1 0.9)" stroke="#000" stroke-width="0.4">B7Ig+@</text>
<text x="0" y="0" font-family="Liberation Mono" font-size="9.8" font-weight="bold" text-anchor="start" fill="#000" transform="translate(380.2 468.6) rotate(-90) scale(1 0.9)" stroke="#000" stroke-width="0.4">CTLA4</text>
<text x="0" y="0" font-family="Liberation Mono" font-size="9.8" font-weight="bold" text-anchor="start" fill="#000" transform="translate(398.4 468.6) rotate(-90) scale(1 0.9)" stroke="#000" stroke-width="0.4">B7Ig+</text>
<text x="0" y="0" font-family="Liberation Mono" font-size="9.8" font-weight="bold" text-anchor="start" fill="#000" transform="translate(411.4 468.6) rotate(-90) scale(1 0.9)" stroke="#000" stroke-width="0.4">@CD28</text>
<text x="0" y="0" font-family="Liberation Mono" font-size="9.8" font-weight="bold" text-anchor="start" fill="#000" transform="translate(424.4 468.6) rotate(-90) scale(1 0.9)" stroke="#000" stroke-width="0.4">CTLA4</text>
</g>
</svg>
</body></html>
